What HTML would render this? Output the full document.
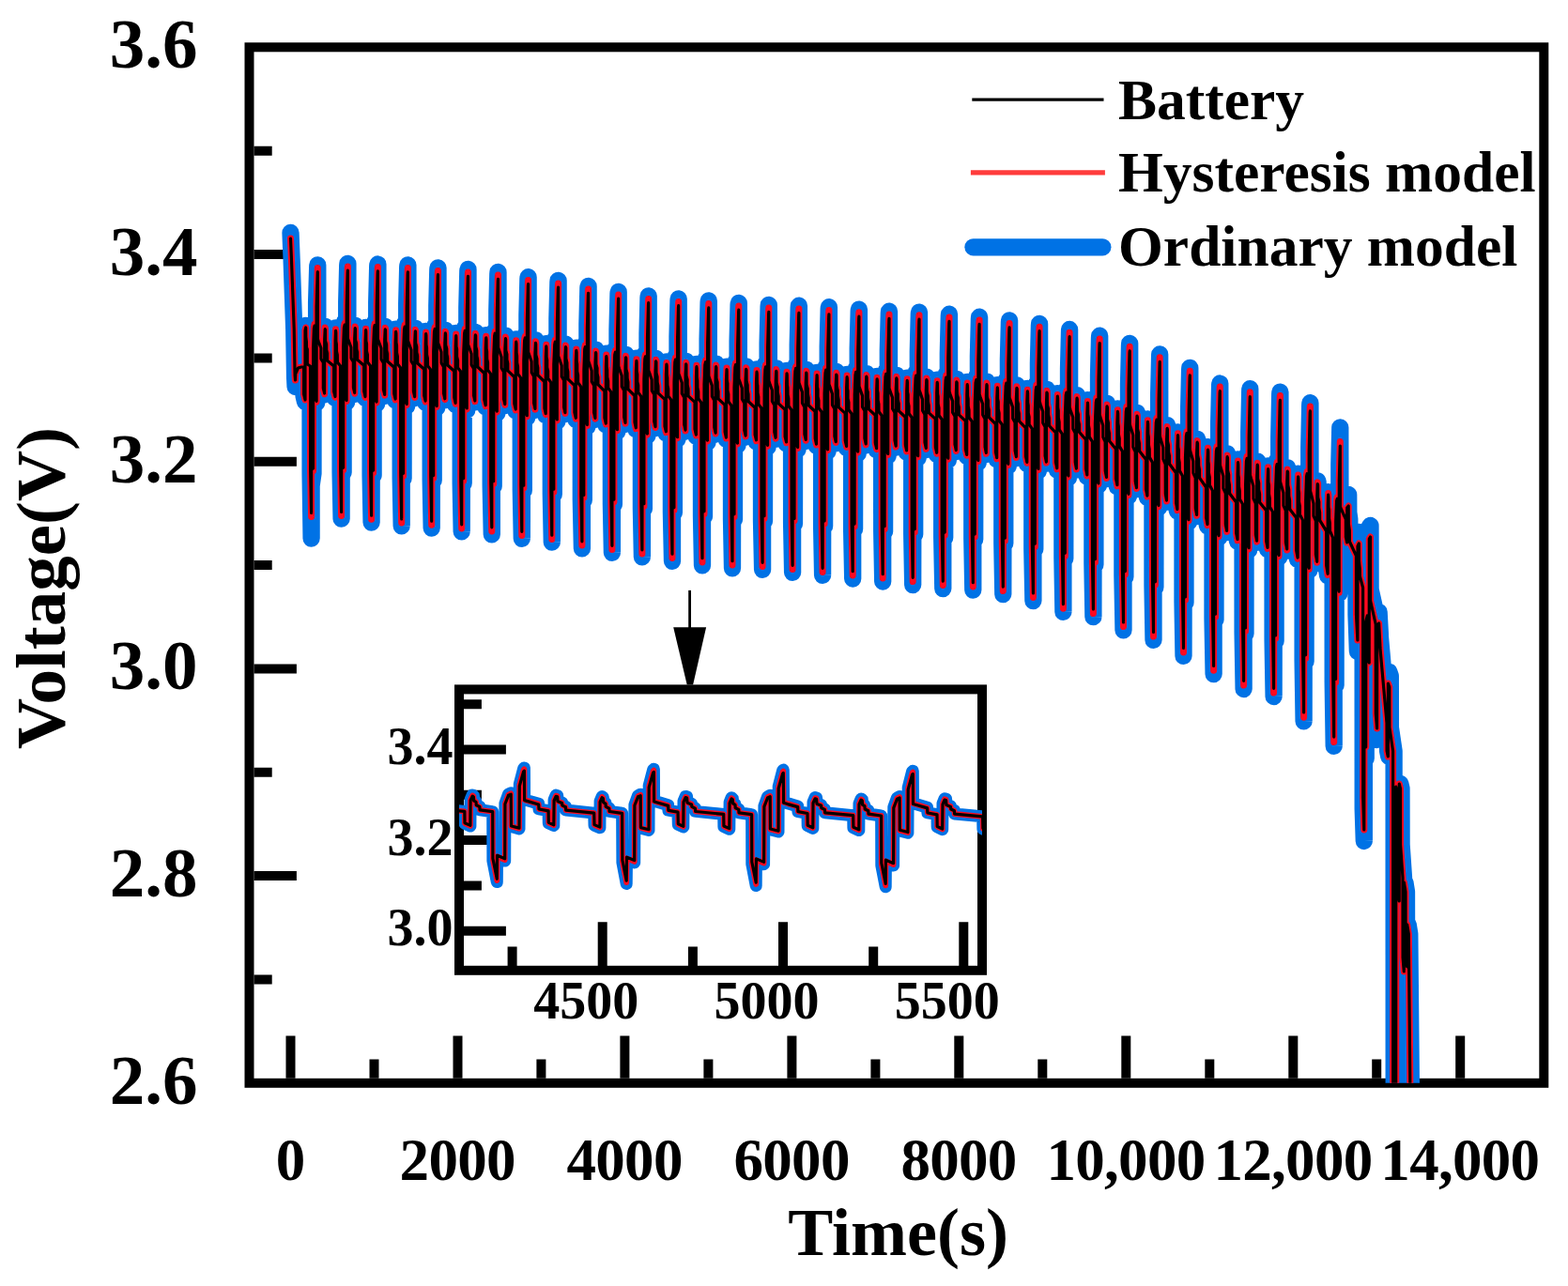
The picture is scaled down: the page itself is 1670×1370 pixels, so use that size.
<!DOCTYPE html><html><head><meta charset="utf-8"><title>Voltage vs Time</title>
<style>html,body{margin:0;padding:0;background:#fff;width:1670px;height:1370px;overflow:hidden}svg{display:block}text{font-family:'Liberation Serif', 'Times New Roman', serif;font-weight:bold;fill:#000}</style></head><body>
<svg width="1670" height="1370" viewBox="0 0 1670 1370">
<defs><clipPath id="cm"><rect x="265.5" y="50.3" width="1378.8" height="1103.5"/></clipPath>
<clipPath id="ci"><rect x="489" y="734.4" width="557" height="299.4"/></clipPath></defs>
<rect width="1670" height="1370" fill="#fff"/>
<path d="M270.5 271.0H315.9 M270.5 491.7H315.9 M270.5 712.4H315.9 M270.5 933.1H315.9 M270.5 160.7H289.7 M270.5 381.4H289.7 M270.5 602.0H289.7 M270.5 822.8H289.7 M270.5 1043.4H289.7 M309.5 1148.8V1103.4 M487.5 1148.8V1103.4 M665.4 1148.8V1103.4 M843.4 1148.8V1103.4 M1021.3 1148.8V1103.4 M1199.3 1148.8V1103.4 M1377.3 1148.8V1103.4 M1555.2 1148.8V1103.4 M398.5 1148.8V1128.6 M576.4 1148.8V1128.6 M754.4 1148.8V1128.6 M932.4 1148.8V1128.6 M1110.3 1148.8V1128.6 M1288.3 1148.8V1128.6 M1466.2 1148.8V1128.6" stroke="#000" stroke-width="10" fill="none"/>
<rect x="265.5" y="50.3" width="1378.8" height="1103.5" fill="none" stroke="#000" stroke-width="10"/>
<g clip-path="url(#cm)" fill="none" stroke-linejoin="round" stroke-linecap="round">
<path d="M309.5 248.0 L310.6 276.0 L312.0 316.0 L313.2 350.0 L314.1 402.0 L314.6 412.0 L314.9 400.0 L317.5 393.0 L321.1 392.0 L323.6 392.0 L323.6 422.0 L325.0 428.0 L325.0 350.0 L325.7 347.0 L325.8 359.0 L326.4 364.0 L326.5 370.0 L327.3 372.0 L327.3 388.0 L330.5 390.0 L330.6 505.1 L331.6 573.6 L331.6 517.5 L333.5 504.1 L333.6 369.5 L334.4 346.9 L335.0 343.9 L335.1 424.2 L337.1 429.0 L337.1 322.3 L338.2 284.4 L338.3 282.4 L338.4 359.2 L339.4 362.3 L341.9 369.4 L341.9 381.8 L344.3 385.9 L344.3 414.7 L345.6 420.4 L345.7 359.1 L346.2 347.8 L346.5 348.8 L346.6 361.2 L347.7 365.3 L347.7 371.5 L348.6 375.6 L348.6 383.8 L355.6 389.9 L355.6 418.3 L357.0 424.0 L357.1 360.9 L357.5 349.5 L357.8 351.6 L357.9 361.9 L358.4 365.0 L358.5 373.3 L359.3 377.4 L359.4 385.6 L362.5 389.7 L362.5 389.7 L362.6 503.4 L363.6 552.7 L363.7 495.8 L365.6 503.3 L365.6 368.9 L366.4 346.1 L367.1 343.0 L367.1 423.6 L369.1 428.3 L369.2 321.2 L370.2 282.9 L370.4 280.8 L370.4 358.4 L371.4 361.5 L373.9 368.6 L374.0 381.0 L376.3 385.1 L376.4 414.1 L377.7 419.9 L377.7 358.2 L378.2 346.8 L378.5 347.8 L378.6 360.2 L379.7 364.3 L379.8 370.5 L380.6 374.6 L380.6 382.9 L387.6 389.2 L387.7 418.2 L389.0 424.1 L389.1 360.3 L389.6 349.0 L389.8 351.1 L389.9 361.4 L390.5 364.6 L390.5 372.9 L391.4 377.0 L391.4 385.3 L394.5 389.7 L394.6 389.7 L394.6 506.1 L395.6 556.6 L395.7 498.4 L397.6 506.3 L397.6 369.2 L398.5 346.4 L399.1 343.4 L399.2 424.9 L401.1 429.9 L401.2 321.8 L402.2 283.5 L402.4 281.5 L402.4 359.1 L403.5 362.3 L406.0 369.6 L406.0 382.1 L408.4 386.4 L408.4 415.9 L409.7 421.8 L409.7 359.4 L410.2 348.0 L410.6 349.1 L410.7 361.5 L411.7 365.8 L411.8 372.0 L412.6 376.2 L412.7 384.6 L419.7 391.2 L419.7 420.6 L421.1 426.5 L421.1 362.1 L421.6 350.6 L421.9 352.7 L422.0 363.2 L422.5 366.3 L422.6 374.7 L423.4 378.9 L423.4 387.3 L426.5 391.7 L426.6 391.7 L426.7 509.3 L427.7 560.3 L427.7 501.5 L429.6 509.5 L429.7 370.9 L430.5 348.0 L431.1 344.9 L431.2 427.2 L433.2 432.3 L433.2 323.1 L434.2 284.4 L434.4 282.3 L434.5 360.8 L435.5 364.0 L438.0 371.5 L438.0 384.0 L440.4 388.4 L440.4 418.0 L441.7 424.0 L441.8 361.4 L442.3 349.9 L442.6 351.0 L442.7 363.5 L443.8 367.8 L443.8 374.0 L444.7 378.2 L444.7 386.6 L451.7 393.2 L451.7 422.7 L453.1 428.7 L453.2 364.2 L453.6 352.9 L453.9 355.0 L454.0 365.3 L454.5 368.5 L454.6 376.8 L455.4 381.0 L455.5 389.3 L458.6 393.7 L458.6 393.7 L458.7 511.5 L459.7 562.6 L459.8 503.7 L461.7 511.7 L461.7 373.1 L462.5 350.4 L463.2 347.3 L463.2 429.3 L465.2 434.3 L465.3 325.6 L466.3 287.3 L466.5 285.3 L466.5 363.0 L467.5 366.2 L470.0 373.6 L470.1 386.1 L472.4 390.4 L472.5 420.2 L473.8 426.2 L473.8 363.4 L474.3 352.0 L474.6 353.1 L474.7 365.6 L475.8 369.8 L475.9 376.0 L476.7 380.2 L476.7 388.6 L483.7 395.2 L483.8 424.9 L485.1 431.0 L485.2 366.2 L485.7 354.8 L485.9 356.9 L486.0 367.3 L486.6 370.4 L486.6 378.8 L487.5 383.0 L487.5 391.3 L490.6 395.7 L490.7 395.7 L490.7 514.7 L491.7 566.3 L491.8 506.8 L493.7 514.8 L493.7 375.0 L494.6 352.2 L495.2 349.1 L495.3 431.6 L497.2 436.7 L497.3 327.4 L498.3 288.9 L498.5 286.9 L498.5 364.9 L499.6 368.1 L502.1 375.6 L502.1 388.1 L504.5 392.4 L504.5 422.3 L505.8 428.4 L505.8 365.4 L506.3 353.9 L506.7 355.0 L506.8 367.5 L507.8 371.7 L507.9 378.0 L508.7 382.2 L508.8 390.5 L515.8 397.5 L515.8 427.3 L517.2 433.4 L517.2 368.5 L517.7 357.1 L518.0 359.2 L518.1 369.6 L518.6 372.8 L518.7 381.2 L519.5 385.4 L519.5 393.8 L522.6 398.3 L522.7 398.3 L522.7 517.5 L523.8 569.3 L523.8 509.7 L525.7 517.9 L525.8 377.9 L526.6 355.1 L527.2 352.0 L527.3 434.7 L529.3 439.9 L529.3 330.4 L530.3 292.0 L530.5 289.9 L530.6 368.1 L531.6 371.3 L534.1 379.0 L534.1 391.4 L536.5 395.9 L536.5 425.9 L537.8 432.0 L537.9 369.1 L538.4 357.7 L538.7 358.8 L538.8 371.3 L539.9 375.6 L539.9 381.8 L540.8 386.1 L540.8 394.4 L547.8 401.6 L547.8 431.4 L549.2 437.6 L549.3 372.8 L549.7 361.5 L550.0 363.6 L550.1 374.0 L550.6 377.2 L550.7 385.5 L551.5 389.7 L551.6 398.0 L554.7 402.7 L554.7 402.7 L554.8 522.0 L555.8 573.8 L555.9 514.2 L557.8 522.4 L557.8 382.5 L558.6 359.8 L559.3 356.8 L559.3 439.2 L561.3 444.5 L561.4 335.4 L562.4 297.3 L562.6 295.2 L562.6 372.9 L563.6 376.1 L566.1 383.7 L566.2 396.2 L568.5 400.7 L568.6 430.6 L569.9 436.8 L569.9 373.9 L570.4 362.5 L570.7 363.6 L570.8 376.1 L571.9 380.4 L572.0 386.7 L572.8 390.9 L572.8 399.3 L579.8 406.5 L579.9 436.2 L581.2 442.3 L581.3 377.5 L581.8 366.1 L582.0 368.2 L582.1 378.6 L582.7 381.8 L582.7 390.2 L583.6 394.4 L583.6 402.8 L586.7 407.3 L586.8 407.3 L586.8 526.1 L587.8 577.7 L587.9 518.3 L589.8 526.5 L589.8 386.9 L590.7 364.0 L591.3 361.0 L591.4 443.5 L593.3 448.7 L593.4 339.3 L594.4 300.9 L594.6 298.8 L594.6 377.0 L595.7 380.3 L598.2 388.0 L598.2 400.4 L600.6 404.9 L600.6 434.9 L601.9 441.1 L601.9 378.1 L602.4 366.7 L602.8 367.8 L602.9 380.3 L603.9 384.6 L604.0 390.8 L604.8 395.1 L604.9 403.4 L611.9 410.7 L611.9 440.7 L613.3 446.9 L613.3 382.0 L613.8 370.7 L614.1 372.8 L614.2 383.2 L614.7 386.4 L614.8 394.7 L615.6 399.0 L615.6 407.3 L618.7 412.0 L618.8 412.0 L618.8 532.1 L619.9 584.4 L619.9 524.3 L621.8 532.7 L621.9 391.9 L622.7 369.3 L623.3 366.3 L623.4 448.9 L625.4 454.3 L625.4 345.0 L626.4 306.9 L626.6 304.9 L626.7 382.4 L627.7 385.7 L630.2 393.5 L630.2 405.9 L632.6 410.5 L632.6 440.5 L633.9 446.8 L634.0 383.9 L634.5 372.6 L634.8 373.7 L634.9 386.1 L636.0 390.5 L636.0 396.7 L636.9 400.9 L636.9 409.2 L643.9 416.6 L643.9 446.5 L645.3 452.6 L645.4 388.0 L645.8 376.7 L646.1 378.8 L646.2 389.1 L646.7 392.3 L646.8 400.6 L647.6 404.8 L647.7 413.1 L650.8 417.7 L650.8 417.7 L650.9 537.0 L651.9 588.8 L651.9 529.2 L653.9 537.4 L653.9 397.6 L654.7 375.1 L655.4 372.1 L655.4 454.2 L657.4 459.5 L657.5 350.8 L658.5 312.9 L658.7 310.9 L658.7 388.0 L659.7 391.3 L662.2 398.9 L662.3 411.2 L664.6 415.7 L664.7 445.7 L666.0 451.8 L666.0 389.2 L666.5 377.9 L666.8 379.0 L666.9 391.4 L668.0 395.7 L668.1 401.8 L668.9 406.1 L668.9 414.3 L675.9 421.5 L676.0 451.3 L677.3 457.4 L677.4 392.9 L677.9 381.6 L678.1 383.7 L678.2 394.0 L678.8 397.1 L678.8 405.4 L679.7 409.6 L679.7 417.8 L682.8 422.3 L682.9 422.3 L682.9 541.5 L683.9 593.3 L684.0 533.7 L685.9 541.9 L685.9 402.2 L686.8 379.6 L687.4 376.6 L687.5 458.7 L689.4 463.9 L689.5 355.3 L690.5 317.4 L690.7 315.3 L690.7 392.5 L691.8 395.7 L694.2 403.2 L694.3 415.5 L696.7 419.9 L696.7 449.9 L698.0 456.1 L698.0 393.3 L698.5 382.0 L698.9 383.1 L699.0 395.5 L700.0 399.7 L700.1 405.9 L700.9 410.2 L701.0 418.4 L708.0 425.4 L708.0 455.3 L709.4 461.4 L709.4 396.6 L709.9 385.3 L710.2 387.4 L710.3 397.7 L710.8 400.8 L710.9 409.1 L711.7 413.3 L711.7 421.6 L714.8 426.0 L714.9 426.0 L714.9 545.8 L716.0 597.8 L716.0 537.9 L717.9 546.1 L718.0 405.6 L718.8 383.0 L719.4 380.0 L719.5 462.4 L721.5 467.5 L721.5 358.5 L722.5 320.4 L722.7 318.3 L722.8 395.8 L723.8 399.0 L726.3 406.4 L726.3 418.8 L728.7 423.1 L728.7 453.4 L730.0 459.5 L730.1 396.3 L730.6 385.0 L730.9 386.0 L731.0 398.5 L732.1 402.7 L732.1 408.9 L733.0 413.2 L733.0 421.5 L740.0 428.4 L740.0 458.5 L741.4 464.7 L741.5 399.4 L741.9 388.0 L742.2 390.1 L742.3 400.5 L742.8 403.6 L742.9 412.0 L743.7 416.2 L743.8 424.5 L746.9 429.0 L746.9 429.0 L747.0 549.9 L748.0 602.3 L748.0 541.9 L750.0 550.2 L750.0 408.5 L750.8 385.6 L751.5 382.6 L751.5 465.7 L753.5 470.9 L753.6 360.9 L754.6 322.4 L754.8 320.4 L754.8 398.5 L755.8 401.7 L758.3 409.2 L758.4 421.7 L760.7 426.1 L760.8 456.5 L762.1 462.6 L762.1 399.1 L762.6 387.6 L762.9 388.7 L763.0 401.3 L764.1 405.5 L764.2 411.8 L765.0 416.1 L765.0 424.4 L772.0 431.4 L772.1 461.6 L773.4 467.7 L773.5 402.2 L774.0 390.7 L774.2 392.8 L774.3 403.3 L774.9 406.5 L774.9 414.9 L775.8 419.1 L775.8 427.5 L778.9 432.0 L779.0 432.0 L779.0 552.9 L780.0 605.3 L780.1 544.9 L782.0 553.2 L782.0 411.3 L782.9 388.4 L783.5 385.3 L783.5 468.7 L785.5 473.9 L785.6 363.5 L786.6 324.8 L786.8 322.8 L786.8 401.3 L787.9 404.6 L790.3 412.1 L790.4 424.7 L792.8 429.1 L792.8 459.4 L794.1 465.6 L794.1 402.0 L794.6 390.5 L795.0 391.5 L795.1 404.1 L796.1 408.4 L796.2 414.7 L797.0 419.0 L797.1 427.4 L804.1 434.2 L804.1 464.3 L805.5 470.4 L805.5 404.9 L806.0 393.4 L806.3 395.5 L806.4 406.0 L806.9 409.2 L807.0 417.6 L807.8 421.9 L807.8 430.3 L810.9 434.7 L811.0 434.7 L811.0 554.8 L812.1 606.9 L812.1 546.9 L814.0 555.0 L814.1 413.8 L814.9 390.8 L815.5 387.7 L815.6 471.0 L817.6 476.1 L817.6 365.7 L818.6 326.9 L818.8 324.8 L818.9 403.6 L819.9 406.9 L822.4 414.3 L822.4 426.9 L824.8 431.3 L824.8 461.6 L826.1 467.7 L826.2 403.9 L826.7 392.3 L827.0 393.4 L827.1 406.1 L828.2 410.4 L828.2 416.7 L829.1 421.0 L829.1 429.5 L836.1 436.2 L836.1 466.4 L837.5 472.5 L837.6 406.7 L838.0 395.0 L838.3 397.2 L838.4 407.8 L838.9 411.0 L839.0 419.5 L839.8 423.7 L839.9 432.2 L843.0 436.7 L843.0 436.7 L843.1 557.5 L844.1 609.9 L844.1 549.5 L846.0 557.7 L846.1 415.6 L846.9 392.3 L847.6 389.2 L847.6 473.2 L849.6 478.4 L849.7 367.0 L850.7 327.8 L850.9 325.7 L850.9 405.3 L851.9 408.6 L854.4 416.1 L854.5 428.9 L856.8 433.3 L856.9 463.8 L858.2 469.9 L858.2 405.7 L858.7 394.0 L859.0 395.1 L859.1 407.9 L860.2 412.2 L860.3 418.6 L861.1 422.9 L861.1 431.4 L868.1 438.2 L868.2 468.6 L869.5 474.7 L869.6 408.5 L870.1 396.8 L870.3 398.9 L870.4 409.6 L871.0 412.8 L871.0 421.4 L871.9 425.7 L871.9 434.2 L875.0 438.7 L875.1 438.7 L875.1 560.2 L876.1 612.9 L876.2 552.2 L878.1 560.4 L878.1 417.5 L879.0 394.1 L879.6 391.0 L879.6 475.4 L881.6 480.6 L881.7 368.7 L882.7 329.3 L882.9 327.2 L882.9 407.2 L884.0 410.4 L886.4 418.1 L886.5 430.9 L888.8 435.3 L888.9 466.0 L890.2 472.2 L890.2 407.7 L890.7 396.0 L891.1 397.1 L891.2 409.9 L892.2 414.2 L892.3 420.6 L893.1 424.9 L893.2 433.4 L900.1 440.2 L900.2 470.8 L901.6 477.1 L901.6 410.6 L902.1 398.9 L902.4 401.0 L902.5 411.7 L903.0 414.9 L903.0 423.4 L903.9 427.7 L903.9 436.2 L907.0 440.7 L907.1 440.7 L907.1 563.3 L908.2 616.5 L908.2 555.2 L910.1 563.5 L910.2 419.6 L911.0 396.3 L911.6 393.1 L911.7 477.7 L913.7 483.0 L913.7 371.0 L914.7 331.7 L914.9 329.6 L915.0 409.3 L916.0 412.5 L918.5 420.1 L918.5 432.9 L920.9 437.3 L920.9 468.2 L922.2 474.4 L922.3 409.8 L922.8 398.1 L923.1 399.2 L923.2 411.9 L924.3 416.3 L924.3 422.6 L925.2 426.9 L925.2 435.4 L932.2 442.2 L932.2 473.0 L933.6 479.3 L933.7 412.6 L934.1 401.0 L934.4 403.1 L934.5 413.7 L935.0 416.9 L935.1 425.4 L935.9 429.7 L936.0 438.2 L939.1 442.7 L939.1 442.7 L939.2 566.0 L940.2 619.5 L940.2 557.8 L942.1 566.2 L942.2 421.6 L943.0 398.3 L943.7 395.2 L943.7 480.0 L945.7 485.2 L945.8 373.0 L946.8 333.8 L947.0 331.7 L947.0 411.3 L948.0 414.6 L950.5 422.1 L950.6 434.9 L952.9 439.3 L953.0 470.4 L954.2 476.6 L954.3 411.6 L954.8 399.9 L955.1 401.0 L955.2 413.8 L956.3 418.1 L956.3 424.5 L957.2 428.8 L957.2 437.4 L964.2 444.2 L964.3 475.3 L965.6 481.6 L965.7 414.4 L966.2 402.6 L966.4 404.8 L966.5 415.5 L967.1 418.7 L967.1 427.3 L968.0 431.6 L968.0 440.2 L971.1 444.7 L971.2 444.7 L971.2 569.1 L972.2 623.1 L972.3 560.9 L974.2 569.3 L974.2 423.4 L975.1 399.9 L975.7 396.7 L975.7 482.3 L977.7 487.6 L977.8 374.3 L978.8 334.7 L979.0 332.6 L979.0 413.0 L980.1 416.3 L982.5 423.9 L982.6 436.8 L984.9 441.2 L985.0 472.6 L986.3 479.0 L986.3 413.5 L986.8 401.7 L987.2 402.8 L987.3 415.7 L988.3 420.0 L988.4 426.5 L989.2 430.8 L989.3 439.4 L996.2 446.2 L996.3 477.6 L997.7 484.0 L997.7 416.3 L998.2 404.6 L998.5 406.7 L998.6 417.4 L999.1 420.7 L999.1 429.3 L1000.0 433.6 L1000.0 442.2 L1003.1 446.7 L1003.2 446.7 L1003.2 572.5 L1004.3 627.1 L1004.3 564.2 L1006.2 572.7 L1006.3 425.4 L1007.1 401.9 L1007.7 398.7 L1007.8 484.7 L1009.8 490.1 L1009.8 376.4 L1010.8 336.8 L1011.0 334.7 L1011.1 415.0 L1012.1 418.3 L1014.6 426.0 L1014.6 438.8 L1017.0 443.3 L1017.0 474.7 L1018.3 481.1 L1018.4 415.5 L1018.8 403.8 L1019.2 404.9 L1019.3 417.7 L1020.4 422.1 L1020.4 428.5 L1021.3 432.8 L1021.3 441.4 L1028.3 448.4 L1028.3 479.7 L1029.7 486.1 L1029.8 418.6 L1030.2 406.9 L1030.5 409.1 L1030.6 419.7 L1031.1 423.0 L1031.2 431.5 L1032.0 435.9 L1032.1 444.4 L1035.2 449.0 L1035.2 449.0 L1035.3 574.2 L1036.3 628.6 L1036.3 566.0 L1038.2 574.5 L1038.3 427.9 L1039.1 404.6 L1039.8 401.4 L1039.8 487.0 L1041.8 492.4 L1041.9 379.2 L1042.9 339.8 L1043.1 337.7 L1043.1 417.7 L1044.1 421.0 L1046.6 428.7 L1046.7 441.5 L1049.0 446.0 L1049.1 477.5 L1050.3 483.9 L1050.4 418.4 L1050.9 406.7 L1051.2 407.8 L1051.3 420.6 L1052.4 425.0 L1052.4 431.4 L1053.3 435.8 L1053.3 444.3 L1060.3 451.5 L1060.4 482.9 L1061.7 489.4 L1061.8 421.8 L1062.3 410.1 L1062.5 412.3 L1062.6 423.0 L1063.2 426.2 L1063.2 434.8 L1064.1 439.1 L1064.1 447.7 L1067.2 452.3 L1067.3 452.3 L1067.3 578.4 L1068.3 633.1 L1068.4 570.1 L1070.3 578.7 L1070.3 431.4 L1071.2 408.0 L1071.8 404.9 L1071.8 490.7 L1073.8 496.2 L1073.9 382.8 L1074.9 343.4 L1075.1 341.3 L1075.1 421.3 L1076.2 424.6 L1078.6 432.4 L1078.7 445.2 L1081.0 449.8 L1081.1 481.5 L1082.4 488.1 L1082.4 422.1 L1082.9 410.4 L1083.3 411.5 L1083.4 424.4 L1084.4 428.8 L1084.5 435.2 L1085.3 439.6 L1085.4 448.2 L1092.3 455.6 L1092.4 487.5 L1093.8 494.1 L1093.8 425.7 L1094.3 414.0 L1094.6 416.2 L1094.7 426.9 L1095.2 430.2 L1095.2 438.8 L1096.1 443.3 L1096.1 451.9 L1099.2 456.7 L1099.3 456.7 L1099.3 584.5 L1100.4 640.1 L1100.4 576.2 L1102.3 585.0 L1102.4 435.6 L1103.2 412.1 L1103.8 409.0 L1103.9 495.7 L1105.9 501.4 L1105.9 386.7 L1106.9 347.0 L1107.1 344.9 L1107.2 425.6 L1108.2 429.0 L1110.7 436.9 L1110.7 449.8 L1113.1 454.5 L1113.1 486.9 L1114.4 493.7 L1114.5 426.7 L1114.9 415.0 L1115.3 416.1 L1115.4 429.0 L1116.5 433.5 L1116.5 440.0 L1117.3 444.4 L1117.4 453.0 L1124.4 460.8 L1124.4 493.6 L1125.8 500.5 L1125.9 431.0 L1126.3 419.2 L1126.6 421.5 L1126.7 432.2 L1127.2 435.6 L1127.3 444.2 L1128.1 448.7 L1128.2 457.3 L1131.3 462.3 L1131.3 462.3 L1131.4 594.5 L1132.4 651.9 L1132.4 585.9 L1134.3 595.1 L1134.4 441.5 L1135.2 418.0 L1135.9 414.9 L1135.9 503.0 L1137.9 508.9 L1138.0 392.7 L1139.0 353.1 L1139.1 351.0 L1139.2 431.7 L1140.2 435.2 L1142.7 443.1 L1142.8 456.2 L1145.1 461.0 L1145.2 493.8 L1146.4 500.6 L1146.5 433.1 L1147.0 421.2 L1147.3 422.4 L1147.4 435.4 L1148.5 440.0 L1148.5 446.5 L1149.4 451.1 L1149.4 459.8 L1156.4 468.2 L1156.5 500.8 L1157.8 507.8 L1157.9 438.0 L1158.4 426.1 L1158.6 428.4 L1158.7 439.4 L1159.3 442.8 L1159.3 451.6 L1160.1 456.2 L1160.2 465.0 L1163.3 470.3 L1163.4 470.3 L1163.4 600.5 L1164.4 657.2 L1164.5 592.2 L1166.4 601.4 L1166.4 449.4 L1167.3 425.5 L1167.9 422.4 L1167.9 510.8 L1169.9 516.9 L1170.0 400.1 L1171.0 359.8 L1171.2 357.7 L1171.2 439.9 L1172.3 443.5 L1174.7 451.8 L1174.8 465.1 L1177.1 470.2 L1177.2 503.1 L1178.5 510.1 L1178.5 441.9 L1179.0 429.8 L1179.4 431.0 L1179.5 444.3 L1180.5 449.1 L1180.6 455.8 L1181.4 460.4 L1181.5 469.3 L1188.4 478.3 L1188.5 511.4 L1189.9 518.5 L1189.9 447.6 L1190.4 435.4 L1190.7 437.8 L1190.8 448.9 L1191.3 452.5 L1191.3 461.4 L1192.2 466.2 L1192.2 475.1 L1195.3 480.6 L1195.4 480.7 L1195.4 613.4 L1196.5 671.3 L1196.5 605.0 L1198.4 614.5 L1198.5 459.3 L1199.3 435.0 L1199.9 431.9 L1200.0 522.1 L1202.0 528.3 L1202.0 409.1 L1203.0 368.0 L1203.2 365.8 L1203.3 449.8 L1204.3 453.5 L1206.8 462.1 L1206.8 475.6 L1209.2 480.9 L1209.2 514.1 L1210.5 521.1 L1210.6 452.1 L1211.0 439.9 L1211.4 441.2 L1211.5 454.7 L1212.6 459.6 L1212.6 466.3 L1213.4 471.1 L1213.5 480.1 L1220.5 489.6 L1220.5 522.6 L1221.9 529.8 L1222.0 458.7 L1222.4 446.5 L1222.7 448.8 L1222.8 460.2 L1223.3 463.8 L1223.4 472.8 L1224.2 477.7 L1224.3 486.8 L1227.4 492.6 L1227.4 492.7 L1227.5 624.3 L1228.5 681.8 L1228.5 616.0 L1230.4 625.6 L1230.5 471.4 L1231.3 446.9 L1232.0 443.8 L1232.0 534.2 L1234.0 540.5 L1234.1 420.9 L1235.1 379.5 L1235.2 377.4 L1235.3 462.2 L1236.3 466.0 L1238.8 475.0 L1238.9 488.6 L1241.2 494.2 L1241.3 527.4 L1242.5 534.6 L1242.6 465.4 L1243.1 453.1 L1243.4 454.4 L1243.5 468.0 L1244.6 473.0 L1244.6 479.8 L1245.5 484.7 L1245.5 493.8 L1252.5 503.8 L1252.6 537.0 L1253.9 544.4 L1254.0 472.7 L1254.5 460.5 L1254.7 462.9 L1254.8 474.3 L1255.4 477.9 L1255.4 487.0 L1256.2 491.9 L1256.3 501.0 L1259.4 507.0 L1259.5 507.0 L1259.5 640.5 L1260.5 698.8 L1260.6 632.1 L1262.5 641.9 L1262.5 485.8 L1263.4 461.3 L1264.0 458.2 L1264.0 549.2 L1266.0 555.7 L1266.1 435.4 L1267.1 394.0 L1267.3 391.8 L1267.3 476.7 L1268.3 480.6 L1270.8 489.7 L1270.9 503.3 L1273.2 508.9 L1273.3 542.6 L1274.6 550.0 L1274.6 480.2 L1275.1 468.0 L1275.5 469.3 L1275.6 482.9 L1276.6 487.9 L1276.7 494.7 L1277.5 499.7 L1277.6 508.7 L1284.5 519.0 L1284.6 552.9 L1286.0 560.4 L1286.0 488.2 L1286.5 476.1 L1286.8 478.4 L1286.9 489.8 L1287.4 493.4 L1287.4 502.5 L1288.3 507.4 L1288.3 516.5 L1291.4 522.6 L1291.5 522.7 L1291.5 658.7 L1292.6 718.1 L1292.6 650.2 L1294.5 660.2 L1294.6 501.8 L1295.4 477.4 L1296.0 474.4 L1296.1 565.9 L1298.1 572.6 L1298.1 451.8 L1299.1 410.7 L1299.3 408.5 L1299.4 493.1 L1300.4 497.0 L1302.9 505.7 L1302.9 519.5 L1305.3 525.4 L1305.3 559.6 L1306.6 567.1 L1306.7 496.0 L1307.1 483.5 L1307.5 484.8 L1307.6 498.8 L1308.7 503.9 L1308.7 510.9 L1309.5 516.0 L1309.6 525.3 L1316.6 535.0 L1316.6 569.3 L1318.0 576.6 L1318.1 502.4 L1318.5 489.5 L1318.8 492.0 L1318.9 503.8 L1319.4 507.5 L1319.5 516.9 L1320.3 521.9 L1320.4 531.4 L1323.5 537.0 L1323.5 537.0 L1323.6 674.3 L1324.6 734.0 L1324.6 665.4 L1326.5 675.1 L1326.6 514.0 L1327.4 488.1 L1328.1 484.7 L1328.1 579.5 L1330.1 585.7 L1330.2 460.3 L1331.2 416.5 L1331.3 414.2 L1331.4 503.5 L1332.4 507.3 L1334.9 516.1 L1335.0 530.6 L1337.3 536.0 L1337.4 570.6 L1338.6 577.8 L1338.7 504.9 L1339.2 491.7 L1339.5 493.0 L1339.6 507.6 L1340.7 512.7 L1340.7 520.0 L1341.6 525.1 L1341.6 534.8 L1348.6 543.8 L1348.7 578.1 L1350.0 585.2 L1350.1 509.8 L1350.6 496.4 L1350.8 498.9 L1350.9 511.2 L1351.5 515.0 L1351.5 524.8 L1352.3 529.9 L1352.4 539.7 L1355.5 545.3 L1355.5 545.3 L1355.6 682.4 L1356.6 742.0 L1356.7 673.5 L1358.6 683.0 L1358.6 521.3 L1359.5 494.4 L1360.1 490.8 L1360.1 587.4 L1362.1 593.6 L1362.2 465.4 L1363.2 420.0 L1363.4 417.6 L1363.4 510.1 L1364.4 514.0 L1366.9 523.3 L1367.0 538.0 L1369.3 543.4 L1369.4 579.2 L1370.7 586.7 L1370.7 511.9 L1371.2 498.5 L1371.6 499.9 L1371.7 514.6 L1372.7 519.7 L1372.8 527.1 L1373.6 532.2 L1373.7 542.0 L1380.6 551.4 L1380.7 588.1 L1382.1 596.1 L1382.1 517.8 L1382.6 504.6 L1382.9 507.1 L1383.0 519.4 L1383.5 523.2 L1383.5 533.0 L1384.4 538.2 L1384.4 547.9 L1387.5 554.0 L1387.6 554.0 L1387.6 703.3 L1388.6 768.4 L1388.7 693.8 L1390.6 704.4 L1390.7 530.8 L1391.5 504.4 L1392.1 501.0 L1392.2 600.5 L1394.2 607.5 L1394.2 476.2 L1395.2 431.6 L1395.4 429.2 L1395.5 520.5 L1396.5 524.5 L1399.0 534.8 L1399.0 548.9 L1401.4 554.5 L1401.4 592.0 L1402.7 600.1 L1402.8 524.8 L1403.2 512.3 L1403.6 513.6 L1403.7 527.6 L1404.8 532.7 L1404.8 539.7 L1405.6 544.6 L1405.7 553.9 L1412.7 565.9 L1412.7 604.2 L1414.1 613.3 L1414.2 535.9 L1414.6 524.2 L1414.9 526.7 L1415.0 538.0 L1415.5 542.0 L1415.6 551.0 L1416.4 556.3 L1416.5 565.3 L1419.6 572.9 L1419.6 573.0 L1419.7 727.1 L1420.7 794.9 L1420.7 717.9 L1422.6 730.1 L1422.7 554.1 L1423.5 530.7 L1424.2 528.0 L1424.2 623.9 L1426.2 632.4 L1426.3 495.0 L1427.3 455.3 L1427.4 528.0 L1431.0 536.0 L1433.3 541.0 L1433.4 572.0 L1434.6 578.0 L1434.7 529.0 L1436.2 527.0 L1436.3 546.0 L1437.3 553.0 L1437.4 577.0 L1444.4 592.0 L1444.5 655.0 L1445.9 694.0 L1446.0 570.0 L1447.3 567.0 L1447.4 586.0 L1448.3 606.0 L1448.4 614.0 L1451.6 626.0 L1451.7 862.0 L1452.8 896.0 L1452.9 797.0 L1454.7 808.0 L1454.8 662.0 L1456.2 656.0 L1456.3 700.0 L1458.2 706.0 L1458.3 562.0 L1459.5 560.0 L1459.6 628.0 L1465.2 653.0 L1465.3 772.0 L1466.6 788.0 L1466.7 654.0 L1468.6 652.0 L1469.8 674.0 L1469.9 678.0 L1478.0 770.0 L1478.1 800.0 L1479.3 806.0 L1479.4 716.0 L1480.8 720.0 L1480.9 775.0 L1484.6 800.0 L1484.7 1200.0 L1485.8 1220.0 L1485.9 1200.0 L1487.7 1200.0 L1487.8 838.0 L1489.2 845.0 L1489.3 950.0 L1491.2 960.0 L1491.3 835.0 L1492.5 840.0 L1492.6 900.0 L1495.0 935.0 L1495.1 1020.0 L1496.3 1035.0 L1496.4 940.0 L1498.0 950.0 L1498.1 1010.0 L1499.6 1030.0 L1499.7 985.0 L1501.3 995.0 L1503.0 1170.0" stroke="#0072e5" stroke-width="18.3"/>
<path d="M309.5 254.0 L310.6 280.0 L312.0 318.0 L313.2 350.0 L314.1 400.0 L314.5 405.0 L314.8 398.0 L317.5 392.0 L321.1 391.0 L323.6 391.0 L323.6 420.0 L325.0 426.0 L325.0 352.0 L325.7 349.0 L325.8 359.0 L326.4 364.0 L326.5 370.0 L327.3 372.0 L327.3 388.0 L330.5 390.0 L330.6 501.9 L331.6 550.4 L331.6 494.4 L333.5 501.9 L333.6 370.1 L334.4 348.2 L335.0 345.2 L335.1 423.6 L337.1 428.2 L337.1 324.3 L338.2 287.5 L338.3 285.5 L338.4 360.1 L339.4 363.1 L341.9 370.0 L341.9 382.0 L344.3 386.0 L344.3 414.2 L345.6 419.8 L345.7 360.0 L346.2 349.0 L346.5 350.0 L346.6 362.0 L347.7 366.0 L347.7 372.0 L348.6 376.0 L348.6 384.0 L355.6 389.9 L355.6 417.8 L357.0 423.3 L357.1 361.8 L357.5 350.7 L357.8 352.7 L357.9 362.7 L358.4 365.7 L358.5 373.7 L359.3 377.7 L359.4 385.8 L362.5 389.7 L362.5 389.7 L362.6 501.2 L363.6 549.5 L363.7 493.7 L365.6 501.1 L365.6 369.5 L366.4 347.4 L367.1 344.3 L367.1 423.0 L369.1 427.6 L369.2 323.2 L370.2 286.0 L370.4 284.0 L370.4 359.3 L371.4 362.3 L373.9 369.2 L374.0 381.3 L376.3 385.2 L376.4 413.6 L377.7 419.3 L377.7 359.1 L378.2 348.0 L378.5 349.0 L378.6 361.0 L379.7 365.0 L379.8 371.0 L380.6 375.0 L380.6 383.1 L387.6 389.2 L387.7 417.6 L389.0 423.4 L389.1 361.2 L389.6 350.2 L389.8 352.2 L389.9 362.2 L390.5 365.3 L390.5 373.3 L391.4 377.4 L391.4 385.5 L394.5 389.7 L394.6 389.7 L394.6 503.8 L395.6 553.3 L395.7 496.3 L397.6 504.0 L397.6 369.8 L398.5 347.7 L399.1 344.7 L399.2 424.2 L401.1 429.1 L401.2 323.8 L402.2 286.6 L402.4 284.6 L402.4 360.0 L403.5 363.1 L406.0 370.2 L406.0 382.3 L408.4 386.5 L408.4 415.4 L409.7 421.2 L409.7 360.3 L410.2 349.2 L410.6 350.3 L410.7 362.4 L411.7 366.5 L411.8 372.6 L412.6 376.6 L412.7 384.7 L419.7 391.2 L419.7 420.0 L421.1 425.9 L421.1 362.9 L421.6 351.8 L421.9 353.9 L422.0 364.0 L422.5 367.1 L422.6 375.2 L423.4 379.3 L423.4 387.4 L426.5 391.7 L426.6 391.7 L426.7 507.0 L427.7 557.0 L427.7 499.4 L429.6 507.2 L429.7 371.6 L430.5 349.3 L431.1 346.3 L431.2 426.6 L433.2 431.5 L433.2 325.1 L434.2 287.6 L434.4 285.5 L434.5 361.7 L435.5 364.8 L438.0 372.1 L438.0 384.3 L440.4 388.5 L440.4 417.5 L441.7 423.4 L441.8 362.3 L442.3 351.2 L442.6 352.2 L442.7 364.4 L443.8 368.5 L443.8 374.5 L444.7 378.6 L444.7 386.7 L451.7 393.2 L451.7 422.1 L453.1 428.0 L453.2 365.1 L453.6 354.0 L453.9 356.1 L454.0 366.2 L454.5 369.2 L454.6 377.3 L455.4 381.4 L455.5 389.4 L458.6 393.7 L458.6 393.7 L458.7 509.2 L459.7 559.3 L459.8 501.6 L461.7 509.4 L461.7 373.7 L462.5 351.6 L463.2 348.6 L463.2 428.6 L465.2 433.6 L465.3 327.6 L466.3 290.4 L466.5 288.4 L466.5 364.0 L467.5 367.0 L470.0 374.2 L470.1 386.3 L472.4 390.5 L472.5 419.7 L473.8 425.6 L473.8 364.4 L474.3 353.3 L474.6 354.3 L474.7 366.4 L475.8 370.5 L475.9 376.6 L476.7 380.7 L476.7 388.7 L483.7 395.2 L483.8 424.3 L485.1 430.3 L485.2 367.0 L485.7 356.0 L485.9 358.0 L486.0 368.1 L486.6 371.2 L486.6 379.3 L487.5 383.3 L487.5 391.4 L490.6 395.7 L490.7 395.7 L490.7 512.3 L491.7 562.9 L491.8 504.6 L493.7 512.5 L493.7 375.6 L494.6 353.5 L495.2 350.5 L495.3 430.9 L497.2 435.9 L497.3 329.4 L498.3 292.1 L498.5 290.0 L498.5 365.8 L499.6 368.9 L502.1 376.2 L502.1 388.3 L504.5 392.5 L504.5 421.8 L505.8 427.7 L505.8 366.3 L506.3 355.2 L506.7 356.2 L506.8 368.4 L507.8 372.5 L507.9 378.5 L508.7 382.6 L508.8 390.7 L515.8 397.5 L515.8 426.7 L517.2 432.7 L517.2 369.3 L517.7 358.3 L518.0 360.3 L518.1 370.4 L518.6 373.5 L518.7 381.6 L519.5 385.8 L519.5 393.9 L522.6 398.3 L522.7 398.3 L522.7 515.2 L523.8 566.0 L523.8 507.5 L525.7 515.6 L525.8 378.5 L526.6 356.3 L527.2 353.4 L527.3 434.0 L529.3 439.1 L529.3 332.4 L530.3 295.1 L530.5 293.1 L530.6 369.0 L531.6 372.1 L534.1 379.6 L534.1 391.7 L536.5 396.0 L536.5 425.4 L537.8 431.4 L537.9 370.0 L538.4 359.0 L538.7 360.0 L538.8 372.1 L539.9 376.3 L539.9 382.3 L540.8 386.5 L540.8 394.5 L547.8 401.6 L547.8 430.8 L549.2 436.9 L549.3 373.7 L549.7 362.7 L550.0 364.7 L550.1 374.8 L550.6 377.9 L550.7 385.9 L551.5 390.1 L551.6 398.2 L554.7 402.7 L554.7 402.7 L554.8 519.6 L555.8 570.5 L555.9 512.0 L557.8 520.1 L557.8 383.1 L558.6 361.1 L559.3 358.2 L559.3 438.5 L561.3 443.7 L561.4 337.4 L562.4 300.4 L562.6 298.4 L562.6 373.8 L563.6 376.9 L566.1 384.3 L566.2 396.4 L568.5 400.8 L568.6 430.1 L569.9 436.2 L569.9 374.8 L570.4 363.8 L570.7 364.8 L570.8 376.9 L571.9 381.1 L572.0 387.2 L572.8 391.4 L572.8 399.4 L579.8 406.5 L579.9 435.6 L581.2 441.6 L581.3 378.3 L581.8 367.3 L582.0 369.3 L582.1 379.4 L582.7 382.5 L582.7 390.6 L583.6 394.8 L583.6 402.9 L586.7 407.3 L586.8 407.3 L586.8 523.8 L587.8 574.4 L587.9 516.2 L589.8 524.2 L589.8 387.5 L590.7 365.3 L591.3 362.3 L591.4 442.8 L593.3 447.9 L593.4 341.3 L594.4 304.0 L594.6 302.0 L594.6 377.9 L595.7 381.1 L598.2 388.6 L598.2 400.7 L600.6 405.0 L600.6 434.4 L601.9 440.4 L601.9 379.0 L602.4 367.9 L602.8 369.0 L602.9 381.1 L603.9 385.3 L604.0 391.3 L604.8 395.5 L604.9 403.5 L611.9 410.7 L611.9 440.1 L613.3 446.2 L613.3 382.8 L613.8 371.9 L614.1 373.9 L614.2 384.0 L614.7 387.1 L614.8 395.2 L615.6 399.3 L615.6 407.4 L618.7 412.0 L618.8 412.0 L618.8 529.8 L619.9 581.0 L619.9 522.1 L621.8 530.3 L621.9 392.5 L622.7 370.6 L623.3 367.7 L623.4 448.2 L625.4 453.5 L625.4 347.0 L626.4 310.0 L626.6 308.0 L626.7 383.4 L627.7 386.6 L630.2 394.1 L630.2 406.1 L632.6 410.6 L632.6 440.0 L633.9 446.1 L634.0 384.8 L634.5 373.9 L634.8 374.9 L634.9 387.0 L636.0 391.2 L636.0 397.2 L636.9 401.4 L636.9 409.4 L643.9 416.6 L643.9 445.9 L645.3 451.9 L645.4 388.8 L645.8 377.9 L646.1 379.9 L646.2 390.0 L646.7 393.0 L646.8 401.0 L647.6 405.2 L647.7 413.2 L650.8 417.7 L650.8 417.7 L650.9 534.6 L651.9 585.5 L651.9 527.0 L653.9 535.1 L653.9 398.2 L654.7 376.3 L655.4 373.4 L655.4 453.5 L657.4 458.7 L657.5 352.8 L658.5 316.0 L658.7 314.0 L658.7 388.9 L659.7 392.1 L662.2 399.5 L662.3 411.5 L664.6 415.8 L664.7 445.2 L666.0 451.2 L666.0 390.1 L666.5 379.2 L666.8 380.2 L666.9 392.2 L668.0 396.4 L668.1 402.4 L668.9 406.5 L668.9 414.5 L675.9 421.5 L676.0 450.7 L677.3 456.7 L677.4 393.7 L677.9 382.8 L678.1 384.8 L678.2 394.8 L678.8 397.9 L678.8 405.9 L679.7 410.0 L679.7 417.9 L682.8 422.3 L682.9 422.3 L682.9 539.2 L683.9 590.0 L684.0 531.5 L685.9 539.6 L685.9 402.8 L686.8 380.9 L687.4 378.0 L687.5 458.0 L689.4 463.1 L689.5 357.3 L690.5 320.5 L690.7 318.5 L690.7 393.4 L691.8 396.5 L694.2 403.8 L694.3 415.8 L696.7 420.1 L696.7 449.4 L698.0 455.5 L698.0 394.2 L698.5 383.3 L698.9 384.3 L699.0 396.3 L700.0 400.5 L700.1 406.5 L700.9 410.6 L701.0 418.6 L708.0 425.4 L708.0 454.7 L709.4 460.7 L709.4 397.4 L709.9 386.5 L710.2 388.5 L710.3 398.5 L710.8 401.6 L710.9 409.6 L711.7 413.7 L711.7 421.7 L714.8 426.0 L714.9 426.0 L714.9 543.5 L716.0 594.5 L716.0 535.7 L717.9 543.7 L718.0 406.2 L718.8 384.3 L719.4 381.3 L719.5 461.7 L721.5 466.7 L721.5 360.5 L722.5 323.5 L722.7 321.5 L722.8 396.7 L723.8 399.8 L726.3 407.0 L726.3 419.0 L728.7 423.3 L728.7 452.8 L730.0 458.9 L730.1 397.2 L730.6 386.2 L730.9 387.2 L731.0 399.3 L732.1 403.4 L732.1 409.5 L733.0 413.6 L733.0 421.7 L740.0 428.4 L740.0 457.9 L741.4 464.0 L741.5 400.2 L741.9 389.2 L742.2 391.2 L742.3 401.3 L742.8 404.4 L742.9 412.5 L743.7 416.6 L743.8 424.7 L746.9 429.0 L746.9 429.0 L747.0 547.5 L748.0 599.0 L748.0 539.7 L750.0 547.8 L750.0 409.1 L750.8 386.9 L751.5 383.9 L751.5 465.0 L753.5 470.1 L753.6 362.9 L754.6 325.6 L754.8 323.6 L754.8 399.4 L755.8 402.5 L758.3 409.8 L758.4 422.0 L760.7 426.2 L760.8 456.0 L762.1 462.0 L762.1 400.0 L762.6 388.9 L762.9 389.9 L763.0 402.1 L764.1 406.3 L764.2 412.4 L765.0 416.5 L765.0 424.6 L772.0 431.4 L772.1 461.0 L773.4 467.0 L773.5 403.0 L774.0 391.9 L774.2 394.0 L774.3 404.1 L774.9 407.2 L774.9 415.4 L775.8 419.5 L775.8 427.6 L778.9 432.0 L779.0 432.0 L779.0 550.5 L780.0 602.0 L780.1 542.7 L782.0 550.8 L782.0 412.0 L782.9 389.7 L783.5 386.7 L783.5 468.0 L785.5 473.1 L785.6 365.5 L786.6 328.0 L786.8 326.0 L786.8 402.2 L787.9 405.4 L790.3 412.7 L790.4 424.9 L792.8 429.2 L792.8 458.9 L794.1 464.9 L794.1 402.9 L794.6 391.7 L795.0 392.8 L795.1 405.0 L796.1 409.2 L796.2 415.3 L797.0 419.4 L797.1 427.6 L804.1 434.2 L804.1 463.7 L805.5 469.7 L805.5 405.8 L806.0 394.6 L806.3 396.6 L806.4 406.8 L806.9 409.9 L807.0 418.1 L807.8 422.2 L807.8 430.4 L810.9 434.7 L811.0 434.7 L811.0 552.4 L812.1 603.5 L812.1 544.7 L814.0 552.6 L814.1 414.5 L814.9 392.1 L815.5 389.0 L815.6 470.3 L817.6 475.3 L817.6 367.8 L818.6 330.1 L818.8 328.0 L818.9 404.6 L819.9 407.7 L822.4 414.9 L822.4 427.2 L824.8 431.4 L824.8 461.1 L826.1 467.1 L826.2 404.9 L826.7 393.6 L827.0 394.7 L827.1 407.0 L828.2 411.1 L828.2 417.3 L829.1 421.4 L829.1 429.6 L836.1 436.2 L836.1 465.8 L837.5 471.8 L837.6 407.5 L838.0 396.2 L838.3 398.3 L838.4 408.6 L838.9 411.7 L839.0 419.9 L839.8 424.1 L839.9 432.4 L843.0 436.7 L843.0 436.7 L843.1 555.1 L844.1 606.5 L844.1 547.3 L846.0 555.3 L846.1 416.2 L846.9 393.6 L847.6 390.6 L847.6 472.5 L849.6 477.6 L849.7 369.1 L850.7 331.0 L850.9 328.9 L850.9 406.2 L851.9 409.4 L854.4 416.7 L854.5 429.1 L856.8 433.4 L856.9 463.3 L858.2 469.3 L858.2 406.6 L858.7 395.3 L859.0 396.3 L859.1 408.7 L860.2 412.9 L860.3 419.1 L861.1 423.3 L861.1 431.6 L868.1 438.2 L868.2 468.0 L869.5 474.0 L869.6 409.4 L870.1 398.0 L870.3 400.1 L870.4 410.4 L871.0 413.6 L871.0 421.9 L871.9 426.0 L871.9 434.3 L875.0 438.7 L875.1 438.7 L875.1 557.8 L876.1 609.5 L876.2 550.0 L878.1 558.0 L878.1 418.2 L879.0 395.4 L879.6 392.4 L879.6 474.7 L881.6 479.8 L881.7 370.7 L882.7 332.5 L882.9 330.4 L882.9 408.1 L884.0 411.3 L886.4 418.7 L886.5 431.1 L888.8 435.4 L888.9 465.4 L890.2 471.5 L890.2 408.6 L890.7 397.3 L891.1 398.3 L891.2 410.7 L892.2 414.9 L892.3 421.1 L893.1 425.3 L893.2 433.6 L900.1 440.2 L900.2 470.2 L901.6 476.3 L901.6 411.4 L902.1 400.1 L902.4 402.2 L902.5 412.5 L903.0 415.6 L903.0 423.9 L903.9 428.1 L903.9 436.3 L907.0 440.7 L907.1 440.7 L907.1 560.9 L908.2 613.0 L908.2 552.9 L910.1 561.1 L910.2 420.2 L911.0 397.6 L911.6 394.5 L911.7 477.0 L913.7 482.1 L913.7 373.0 L914.7 334.9 L914.9 332.8 L915.0 410.2 L916.0 413.4 L918.5 420.8 L918.5 433.1 L920.9 437.4 L920.9 467.6 L922.2 473.8 L922.3 410.7 L922.8 399.4 L923.1 400.4 L923.2 412.8 L924.3 417.0 L924.3 423.2 L925.2 427.4 L925.2 435.6 L932.2 442.2 L932.2 472.4 L933.6 478.6 L933.7 413.5 L934.1 402.2 L934.4 404.2 L934.5 414.5 L935.0 417.7 L935.1 425.9 L935.9 430.1 L936.0 438.3 L939.1 442.7 L939.1 442.7 L939.2 563.6 L940.2 616.0 L940.2 555.6 L942.1 563.8 L942.2 422.2 L943.0 399.6 L943.7 396.6 L943.7 479.2 L945.7 484.4 L945.8 375.1 L946.8 337.0 L947.0 334.9 L947.0 412.2 L948.0 415.4 L950.5 422.7 L950.6 435.1 L952.9 439.4 L953.0 469.8 L954.2 476.0 L954.3 412.5 L954.8 401.2 L955.1 402.2 L955.2 414.7 L956.3 418.9 L956.3 425.1 L957.2 429.3 L957.2 437.6 L964.2 444.2 L964.3 474.7 L965.6 480.9 L965.7 415.2 L966.2 403.8 L966.4 405.9 L966.5 416.3 L967.1 419.5 L967.1 427.8 L968.0 432.0 L968.0 440.3 L971.1 444.7 L971.2 444.7 L971.2 566.7 L972.2 619.6 L972.3 558.6 L974.2 566.9 L974.2 424.0 L975.1 401.2 L975.7 398.1 L975.7 481.6 L977.7 486.8 L977.8 376.4 L978.8 337.9 L979.0 335.8 L979.0 413.9 L980.1 417.1 L982.5 424.6 L982.6 437.1 L984.9 441.4 L985.0 472.1 L986.3 478.3 L986.3 414.4 L986.8 403.0 L987.2 404.0 L987.3 416.5 L988.3 420.8 L988.4 427.0 L989.2 431.2 L989.3 439.6 L996.2 446.2 L996.3 477.0 L997.7 483.3 L997.7 417.2 L998.2 405.8 L998.5 407.9 L998.6 418.3 L999.1 421.4 L999.1 429.8 L1000.0 434.0 L1000.0 442.3 L1003.1 446.7 L1003.2 446.7 L1003.2 570.0 L1004.3 623.5 L1004.3 561.9 L1006.2 570.2 L1006.3 426.1 L1007.1 403.2 L1007.7 400.1 L1007.8 484.0 L1009.8 489.2 L1009.8 378.4 L1010.8 340.0 L1011.0 337.9 L1011.1 416.0 L1012.1 419.1 L1014.6 426.6 L1014.6 439.1 L1017.0 443.4 L1017.0 474.2 L1018.3 480.4 L1018.4 416.5 L1018.8 405.1 L1019.2 406.1 L1019.3 418.6 L1020.4 422.8 L1020.4 429.1 L1021.3 433.3 L1021.3 441.6 L1028.3 448.4 L1028.3 479.1 L1029.7 485.3 L1029.8 419.5 L1030.2 408.1 L1030.5 410.2 L1030.6 420.6 L1031.1 423.7 L1031.2 432.0 L1032.0 436.3 L1032.1 444.6 L1035.2 449.0 L1035.2 449.0 L1035.3 571.8 L1036.3 625.0 L1036.3 563.7 L1038.2 572.0 L1038.3 428.6 L1039.1 405.9 L1039.8 402.8 L1039.8 486.3 L1041.8 491.6 L1041.9 381.3 L1042.9 343.0 L1043.1 341.0 L1043.1 418.7 L1044.1 421.9 L1046.6 429.4 L1046.7 441.8 L1049.0 446.1 L1049.1 477.0 L1050.3 483.3 L1050.4 419.4 L1050.9 408.0 L1051.2 409.1 L1051.3 421.5 L1052.4 425.8 L1052.4 432.0 L1053.3 436.2 L1053.3 444.5 L1060.3 451.5 L1060.4 482.3 L1061.7 488.7 L1061.8 422.7 L1062.3 411.3 L1062.5 413.4 L1062.6 423.8 L1063.2 427.0 L1063.2 435.3 L1064.1 439.5 L1064.1 447.8 L1067.2 452.3 L1067.3 452.3 L1067.3 575.9 L1068.3 629.6 L1068.4 567.8 L1070.3 576.3 L1070.3 432.0 L1071.2 409.3 L1071.8 406.3 L1071.8 490.0 L1073.8 495.4 L1073.9 384.8 L1074.9 346.6 L1075.1 344.6 L1075.1 422.3 L1076.2 425.5 L1078.6 433.0 L1078.7 445.5 L1081.0 449.9 L1081.1 481.0 L1082.4 487.4 L1082.4 423.0 L1082.9 411.7 L1083.3 412.7 L1083.4 425.2 L1084.4 429.5 L1084.5 435.8 L1085.3 440.0 L1085.4 448.4 L1092.3 455.6 L1092.4 486.8 L1093.8 493.3 L1093.8 426.6 L1094.3 415.2 L1094.6 417.3 L1094.7 427.8 L1095.2 431.0 L1095.2 439.3 L1096.1 443.6 L1096.1 452.0 L1099.2 456.7 L1099.3 456.7 L1099.3 582.0 L1100.4 636.5 L1100.4 573.8 L1102.3 582.5 L1102.4 436.3 L1103.2 413.4 L1103.8 410.4 L1103.9 495.0 L1105.9 500.5 L1105.9 388.8 L1106.9 350.3 L1107.1 348.2 L1107.2 426.6 L1108.2 429.9 L1110.7 437.5 L1110.7 450.1 L1113.1 454.6 L1113.1 486.4 L1114.4 493.0 L1114.5 427.7 L1114.9 416.3 L1115.3 417.4 L1115.4 429.9 L1116.5 434.3 L1116.5 440.5 L1117.3 444.9 L1117.4 453.2 L1124.4 460.8 L1124.4 493.0 L1125.8 499.8 L1125.9 431.9 L1126.3 420.5 L1126.6 422.6 L1126.7 433.1 L1127.2 436.3 L1127.3 444.7 L1128.1 449.1 L1128.2 457.5 L1131.3 462.3 L1131.3 462.3 L1131.4 591.9 L1132.4 648.2 L1132.4 583.5 L1134.3 592.5 L1134.4 442.1 L1135.2 419.3 L1135.9 416.3 L1135.9 502.2 L1137.9 508.0 L1138.0 394.8 L1139.0 356.3 L1139.1 354.3 L1139.2 432.7 L1140.2 436.0 L1142.7 443.8 L1142.8 456.4 L1145.1 461.1 L1145.2 493.2 L1146.4 499.9 L1146.5 434.0 L1147.0 422.5 L1147.3 423.6 L1147.4 436.3 L1148.5 440.8 L1148.5 447.1 L1149.4 451.5 L1149.4 460.0 L1156.4 468.2 L1156.5 500.2 L1157.8 507.0 L1157.9 438.9 L1158.4 427.4 L1158.6 429.6 L1158.7 440.2 L1159.3 443.6 L1159.3 452.1 L1160.1 456.6 L1160.2 465.1 L1163.3 470.3 L1163.4 470.3 L1163.4 598.0 L1164.4 653.6 L1164.5 589.8 L1166.4 598.9 L1166.4 450.0 L1167.3 426.9 L1167.9 423.9 L1167.9 510.0 L1169.9 516.0 L1170.0 402.2 L1171.0 363.1 L1171.2 361.0 L1171.2 440.9 L1172.3 444.4 L1174.7 452.4 L1174.8 465.3 L1177.1 470.3 L1177.2 502.5 L1178.5 509.4 L1178.5 442.8 L1179.0 431.1 L1179.4 432.3 L1179.5 445.2 L1180.5 449.9 L1180.6 456.3 L1181.4 460.9 L1181.5 469.5 L1188.4 478.3 L1188.5 510.7 L1189.9 517.7 L1189.9 448.5 L1190.4 436.7 L1190.7 439.0 L1190.8 449.8 L1191.3 453.2 L1191.3 461.9 L1192.2 466.6 L1192.2 475.2 L1195.3 480.6 L1195.4 480.7 L1195.4 610.8 L1196.5 667.6 L1196.5 602.5 L1198.4 611.9 L1198.5 460.0 L1199.3 436.4 L1199.9 433.3 L1200.0 521.3 L1202.0 527.4 L1202.0 411.2 L1203.0 371.4 L1203.2 369.2 L1203.3 450.8 L1204.3 454.4 L1206.8 462.8 L1206.8 475.9 L1209.2 481.0 L1209.2 513.5 L1210.5 520.4 L1210.6 453.1 L1211.0 441.3 L1211.4 442.5 L1211.5 455.6 L1212.6 460.3 L1212.6 466.9 L1213.4 471.6 L1213.5 480.3 L1220.5 489.6 L1220.5 522.0 L1221.9 529.0 L1222.0 459.6 L1222.4 447.7 L1222.7 450.0 L1222.8 461.0 L1223.3 464.6 L1223.4 473.4 L1224.2 478.1 L1224.3 486.9 L1227.4 492.6 L1227.4 492.7 L1227.5 621.8 L1228.5 678.1 L1228.5 613.6 L1230.4 623.1 L1230.5 472.1 L1231.3 448.3 L1232.0 445.2 L1232.0 533.4 L1234.0 539.6 L1234.1 423.1 L1235.1 382.9 L1235.2 380.8 L1235.3 463.2 L1236.3 466.9 L1238.8 475.7 L1238.9 488.9 L1241.2 494.3 L1241.3 526.8 L1242.5 533.9 L1242.6 466.3 L1243.1 454.5 L1243.4 455.7 L1243.5 468.9 L1244.6 473.8 L1244.6 480.4 L1245.5 485.2 L1245.5 494.0 L1252.5 503.8 L1252.6 536.4 L1253.9 543.6 L1254.0 473.7 L1254.5 461.8 L1254.7 464.1 L1254.8 475.2 L1255.4 478.7 L1255.4 487.5 L1256.2 492.3 L1256.3 501.1 L1259.4 507.0 L1259.5 507.0 L1259.5 637.9 L1260.5 695.0 L1260.6 629.7 L1262.5 639.3 L1262.5 486.5 L1263.4 462.7 L1264.0 459.7 L1264.0 548.4 L1266.0 554.8 L1266.1 437.6 L1267.1 397.3 L1267.3 395.2 L1267.3 477.7 L1268.3 481.5 L1270.8 490.4 L1270.9 503.6 L1273.2 509.1 L1273.3 542.1 L1274.6 549.3 L1274.6 481.2 L1275.1 469.4 L1275.5 470.6 L1275.6 483.8 L1276.6 488.7 L1276.7 495.3 L1277.5 500.1 L1277.6 508.9 L1284.5 519.0 L1284.6 552.2 L1286.0 559.6 L1286.0 489.1 L1286.5 477.3 L1286.8 479.7 L1286.9 490.7 L1287.4 494.2 L1287.4 503.0 L1288.3 507.8 L1288.3 516.6 L1291.4 522.6 L1291.5 522.7 L1291.5 656.0 L1292.6 714.3 L1292.6 647.7 L1294.5 657.6 L1294.6 502.4 L1295.4 478.8 L1296.0 475.9 L1296.1 565.1 L1298.1 571.7 L1298.1 454.0 L1299.1 414.1 L1299.3 412.0 L1299.4 494.0 L1300.4 497.9 L1302.9 506.4 L1302.9 519.8 L1305.3 525.5 L1305.3 559.0 L1306.6 566.4 L1306.7 497.0 L1307.1 484.9 L1307.5 486.2 L1307.6 499.7 L1308.7 504.7 L1308.7 511.5 L1309.5 516.4 L1309.6 525.5 L1316.6 535.0 L1316.6 568.6 L1318.0 575.7 L1318.1 503.4 L1318.5 490.9 L1318.8 493.2 L1318.9 504.7 L1319.4 508.3 L1319.5 517.5 L1320.3 522.3 L1320.4 531.5 L1323.5 537.0 L1323.5 537.0 L1323.6 671.6 L1324.6 730.1 L1324.6 662.9 L1326.5 672.4 L1326.6 514.7 L1327.4 489.5 L1328.1 486.2 L1328.1 578.7 L1330.1 584.8 L1330.2 462.6 L1331.2 420.1 L1331.3 417.8 L1331.4 504.5 L1332.4 508.3 L1334.9 516.8 L1335.0 530.8 L1337.3 536.2 L1337.4 570.0 L1338.6 577.1 L1338.7 506.0 L1339.2 493.2 L1339.5 494.4 L1339.6 508.6 L1340.7 513.6 L1340.7 520.6 L1341.6 525.6 L1341.6 535.0 L1348.6 543.8 L1348.7 577.4 L1350.0 584.4 L1350.1 510.8 L1350.6 497.8 L1350.8 500.2 L1350.9 512.2 L1351.5 515.8 L1351.5 525.4 L1352.3 530.3 L1352.4 539.9 L1355.5 545.3 L1355.5 545.3 L1355.6 679.7 L1356.6 738.1 L1356.7 671.0 L1358.6 680.3 L1358.6 522.1 L1359.5 495.9 L1360.1 492.5 L1360.1 586.6 L1362.1 592.7 L1362.2 467.8 L1363.2 423.7 L1363.4 421.4 L1363.4 511.1 L1364.4 515.0 L1366.9 524.0 L1367.0 538.3 L1369.3 543.6 L1369.4 578.6 L1370.7 586.0 L1370.7 513.0 L1371.2 500.0 L1371.6 501.3 L1371.7 515.6 L1372.7 520.6 L1372.8 527.7 L1373.6 532.7 L1373.7 542.2 L1380.6 551.4 L1380.7 587.4 L1382.1 595.2 L1382.1 518.8 L1382.6 506.0 L1382.9 508.5 L1383.0 520.3 L1383.5 524.1 L1383.5 533.6 L1384.4 538.6 L1384.4 548.1 L1387.5 554.0 L1387.6 554.0 L1387.6 700.4 L1388.6 764.2 L1388.7 691.0 L1390.6 701.5 L1390.7 531.5 L1391.5 505.9 L1392.1 502.6 L1392.2 599.6 L1394.2 606.5 L1394.2 478.6 L1395.2 435.3 L1395.4 433.0 L1395.5 521.5 L1396.5 525.5 L1399.0 535.4 L1399.0 549.2 L1401.4 554.6 L1401.4 591.3 L1402.7 599.3 L1402.8 525.8 L1403.2 513.7 L1403.6 515.0 L1403.7 528.5 L1404.8 533.5 L1404.8 540.3 L1405.6 545.1 L1405.7 554.1 L1412.7 565.9 L1412.7 603.4 L1414.1 612.4 L1414.2 536.9 L1414.6 525.4 L1414.9 527.9 L1415.0 538.9 L1415.5 542.7 L1415.6 551.5 L1416.4 556.7 L1416.5 565.4 L1419.6 572.9 L1419.6 573.0 L1419.7 724.1 L1420.7 790.6 L1420.7 715.1 L1422.6 727.1 L1422.7 554.8 L1423.5 532.1 L1424.2 529.5 L1424.2 623.0 L1426.2 631.4 L1426.3 509.2 L1427.3 470.6 L1427.4 540.0 L1431.0 548.0 L1433.3 553.0 L1433.4 572.0 L1434.6 578.0 L1434.7 541.0 L1436.2 539.0 L1436.3 558.0 L1437.3 565.0 L1437.4 577.0 L1444.4 592.0 L1444.5 655.0 L1445.9 682.0 L1446.0 582.0 L1447.3 579.0 L1447.4 598.0 L1448.3 606.0 L1448.4 614.0 L1451.6 626.0 L1451.7 850.0 L1452.8 884.0 L1452.9 785.0 L1454.7 796.0 L1454.8 662.0 L1456.2 656.0 L1456.3 700.0 L1458.2 706.0 L1458.3 574.0 L1459.5 572.0 L1459.6 640.0 L1465.2 665.0 L1465.3 760.0 L1466.6 776.0 L1466.7 666.0 L1468.6 664.0 L1469.8 686.0 L1469.9 690.0 L1477.0 770.0 L1477.1 800.0 L1478.3 806.0 L1478.4 728.0 L1479.8 732.0 L1479.9 775.0 L1483.6 800.0 L1483.7 1200.0 L1484.8 1220.0 L1484.9 1200.0 L1486.7 1200.0 L1486.8 838.0 L1488.2 845.0 L1488.3 950.0 L1490.2 960.0 L1490.3 835.0 L1491.5 840.0 L1491.6 900.0 L1494.0 935.0 L1494.1 1020.0 L1495.3 1035.0 L1495.4 940.0 L1497.0 950.0 L1497.1 1010.0 L1498.6 1030.0 L1498.7 985.0 L1500.3 995.0 L1502.0 1170.0" stroke="#ff0a20" stroke-width="7.0"/>
<path d="M309.5 254.0 L310.6 280.0 L312.0 318.0 L313.2 350.0 L314.1 400.0 L314.5 405.0 L314.8 398.0 L317.5 392.0 L321.1 391.0 L323.6 391.0 L323.6 420.0 L325.0 426.0 L325.0 352.0 L325.7 349.0 L325.8 359.0 L326.4 364.0 L326.5 370.0 L327.3 372.0 L327.3 388.0 L330.5 390.0 L330.6 499.1 L331.6 546.4 L331.6 491.8 L333.5 499.1 L333.6 370.9 L334.4 349.9 L335.0 347.0 L335.1 422.7 L337.1 427.3 L337.1 326.9 L338.2 291.6 L338.3 289.7 L338.4 361.3 L339.4 364.2 L341.9 370.8 L341.9 382.3 L344.3 386.2 L344.3 413.6 L345.6 419.0 L345.7 361.2 L346.2 350.7 L346.5 351.6 L346.6 363.1 L347.7 367.0 L347.7 372.7 L348.6 376.6 L348.6 384.2 L355.6 389.9 L355.6 417.1 L357.0 422.5 L357.1 362.9 L357.5 352.3 L357.8 354.2 L357.9 363.8 L358.4 366.7 L358.5 374.4 L359.3 378.2 L359.4 385.9 L362.5 389.7 L362.5 389.7 L362.6 498.4 L363.6 545.5 L363.7 491.1 L365.6 498.3 L365.6 370.3 L366.4 349.1 L367.1 346.1 L367.1 422.1 L369.1 426.6 L369.2 325.8 L370.2 290.1 L370.4 288.2 L370.4 360.5 L371.4 363.4 L373.9 370.0 L374.0 381.6 L376.3 385.4 L376.4 413.0 L377.7 418.5 L377.7 360.3 L378.2 349.6 L378.5 350.6 L378.6 362.2 L379.7 366.0 L379.8 371.8 L380.6 375.6 L380.6 383.3 L387.6 389.2 L387.7 416.9 L389.0 422.6 L389.1 362.3 L389.6 351.7 L389.8 353.7 L389.9 363.3 L390.5 366.3 L390.5 374.0 L391.4 377.9 L391.4 385.6 L394.5 389.7 L394.6 389.7 L394.6 501.0 L395.6 549.2 L395.7 493.6 L397.6 501.1 L397.6 370.6 L398.5 349.4 L399.1 346.5 L399.2 423.3 L401.1 428.1 L401.2 326.4 L402.2 290.8 L402.4 288.9 L402.4 361.2 L403.5 364.2 L406.0 371.0 L406.0 382.6 L408.4 386.7 L408.4 414.8 L409.7 420.4 L409.7 361.5 L410.2 350.9 L410.6 351.9 L410.7 363.5 L411.7 367.5 L411.8 373.3 L412.6 377.2 L412.7 385.0 L419.7 391.2 L419.7 419.3 L421.1 425.0 L421.1 364.1 L421.6 353.4 L421.9 355.4 L422.0 365.1 L422.5 368.0 L422.6 375.8 L423.4 379.8 L423.4 387.6 L426.5 391.7 L426.6 391.7 L426.7 504.1 L427.7 552.9 L427.7 496.7 L429.6 504.3 L429.7 372.4 L430.5 351.0 L431.1 348.1 L431.2 425.7 L433.2 430.5 L433.2 327.7 L434.2 291.7 L434.4 289.8 L434.5 362.9 L435.5 365.9 L438.0 372.9 L438.0 384.6 L440.4 388.6 L440.4 416.9 L441.7 422.6 L441.8 363.5 L442.3 352.8 L442.6 353.8 L442.7 365.5 L443.8 369.5 L443.8 375.3 L444.7 379.2 L444.7 387.0 L451.7 393.2 L451.7 421.4 L453.1 427.1 L453.2 366.2 L453.6 355.6 L453.9 357.6 L454.0 367.3 L454.5 370.2 L454.6 377.9 L455.4 381.9 L455.5 389.6 L458.6 393.7 L458.6 393.7 L458.7 506.3 L459.7 555.2 L459.8 498.9 L461.7 506.5 L461.7 374.5 L462.5 353.3 L463.2 350.5 L463.2 427.7 L465.2 432.6 L465.3 330.3 L466.3 294.6 L466.5 292.7 L466.5 365.2 L467.5 368.1 L470.0 375.0 L470.1 386.6 L472.4 390.7 L472.5 419.0 L473.8 424.8 L473.8 365.6 L474.3 354.9 L474.6 355.9 L474.7 367.6 L475.8 371.5 L475.9 377.3 L476.7 381.2 L476.7 389.0 L483.7 395.2 L483.8 423.6 L485.1 429.4 L485.2 368.2 L485.7 357.5 L485.9 359.5 L486.0 369.2 L486.6 372.1 L486.6 379.9 L487.5 383.8 L487.5 391.6 L490.6 395.7 L490.7 395.7 L490.7 509.4 L491.7 558.8 L491.8 501.9 L493.7 509.6 L493.7 376.5 L494.6 355.2 L495.2 352.3 L495.3 430.1 L497.2 434.9 L497.3 332.1 L498.3 296.2 L498.5 294.3 L498.5 367.1 L499.6 370.0 L502.1 377.0 L502.1 388.6 L504.5 392.6 L504.5 421.2 L505.8 427.0 L505.8 367.5 L506.3 356.8 L506.7 357.8 L506.8 369.5 L507.8 373.4 L507.9 379.3 L508.7 383.2 L508.8 391.0 L515.8 397.5 L515.8 425.9 L517.2 431.8 L517.2 370.5 L517.7 359.8 L518.0 361.8 L518.1 371.5 L518.6 374.5 L518.7 382.3 L519.5 386.3 L519.5 394.1 L522.6 398.3 L522.7 398.3 L522.7 512.3 L523.8 561.8 L523.8 504.8 L525.7 512.7 L525.8 379.3 L526.6 358.0 L527.2 355.2 L527.3 433.1 L529.3 438.1 L529.3 335.1 L530.3 299.3 L530.5 297.3 L530.6 370.2 L531.6 373.2 L534.1 380.4 L534.1 392.0 L536.5 396.2 L536.5 424.8 L537.8 430.6 L537.9 371.2 L538.4 360.6 L538.7 361.6 L538.8 373.2 L539.9 377.3 L539.9 383.1 L540.8 387.0 L540.8 394.8 L547.8 401.6 L547.8 430.1 L549.2 436.0 L549.3 374.8 L549.7 364.2 L550.0 366.2 L550.1 375.9 L550.6 378.9 L550.7 386.6 L551.5 390.6 L551.6 398.3 L554.7 402.7 L554.7 402.7 L554.8 516.7 L555.8 566.3 L555.9 509.3 L557.8 517.2 L557.8 383.9 L558.6 362.8 L559.3 360.0 L559.3 437.6 L561.3 442.7 L561.4 340.1 L562.4 304.5 L562.6 302.6 L562.6 375.0 L563.6 378.0 L566.1 385.1 L566.2 396.7 L568.5 400.9 L568.6 429.5 L569.9 435.4 L569.9 376.0 L570.4 365.4 L570.7 366.4 L570.8 378.1 L571.9 382.1 L572.0 387.9 L572.8 391.9 L572.8 399.7 L579.8 406.5 L579.9 434.9 L581.2 440.7 L581.3 379.5 L581.8 368.8 L582.0 370.8 L582.1 380.5 L582.7 383.5 L582.7 391.3 L583.6 395.3 L583.6 403.1 L586.7 407.3 L586.8 407.3 L586.8 520.9 L587.8 570.2 L587.9 513.4 L589.8 521.2 L589.8 388.3 L590.7 367.0 L591.3 364.2 L591.4 442.0 L593.3 446.9 L593.4 344.0 L594.4 308.2 L594.6 306.2 L594.6 379.2 L595.7 382.2 L598.2 389.4 L598.2 401.0 L600.6 405.2 L600.6 433.8 L601.9 439.7 L601.9 380.2 L602.4 369.6 L602.8 370.6 L602.9 382.2 L603.9 386.3 L604.0 392.1 L604.8 396.0 L604.9 403.8 L611.9 410.7 L611.9 439.3 L613.3 445.3 L613.3 383.9 L613.8 373.4 L614.1 375.4 L614.2 385.1 L614.7 388.1 L614.8 395.8 L615.6 399.8 L615.6 407.6 L618.7 412.0 L618.8 412.0 L618.8 526.8 L619.9 576.8 L619.9 519.4 L621.8 527.4 L621.9 393.3 L622.7 372.2 L623.3 369.5 L623.4 447.3 L625.4 452.5 L625.4 349.6 L626.4 314.1 L626.6 312.3 L626.7 384.6 L627.7 387.6 L630.2 394.9 L630.2 406.4 L632.6 410.7 L632.6 439.4 L633.9 445.4 L634.0 386.0 L634.5 375.5 L634.8 376.5 L634.9 388.1 L636.0 392.1 L636.0 397.9 L636.9 401.9 L636.9 409.6 L643.9 416.6 L643.9 445.1 L645.3 451.1 L645.4 389.9 L645.8 379.5 L646.1 381.4 L646.2 391.0 L646.7 394.0 L646.8 401.7 L647.6 405.7 L647.7 413.3 L650.8 417.7 L650.8 417.7 L650.9 531.7 L651.9 581.3 L651.9 524.3 L653.9 532.2 L653.9 399.0 L654.7 378.0 L655.4 375.2 L655.4 452.6 L657.4 457.7 L657.5 355.4 L658.5 320.1 L658.7 318.2 L658.7 390.1 L659.7 393.2 L662.2 400.3 L662.3 411.8 L664.6 416.0 L664.7 444.5 L666.0 450.4 L666.0 391.3 L666.5 380.8 L666.8 381.8 L666.9 393.3 L668.0 397.3 L668.1 403.1 L668.9 407.1 L668.9 414.7 L675.9 421.5 L676.0 450.0 L677.3 455.8 L677.4 394.8 L677.9 384.3 L678.1 386.3 L678.2 395.9 L678.8 398.8 L678.8 406.5 L679.7 410.4 L679.7 418.1 L682.8 422.3 L682.9 422.3 L682.9 536.3 L683.9 585.8 L684.0 528.8 L685.9 536.7 L685.9 403.6 L686.8 382.6 L687.4 379.8 L687.5 457.1 L689.4 462.1 L689.5 359.9 L690.5 324.6 L690.7 322.7 L690.7 394.6 L691.8 397.6 L694.2 404.6 L694.3 416.1 L696.7 420.2 L696.7 448.8 L698.0 454.7 L698.0 395.4 L698.5 384.9 L698.9 385.9 L699.0 397.5 L700.0 401.4 L700.1 407.2 L700.9 411.1 L701.0 418.8 L708.0 425.4 L708.0 454.0 L709.4 459.8 L709.4 398.6 L709.9 388.0 L710.2 390.0 L710.3 399.6 L710.8 402.5 L710.9 410.2 L711.7 414.2 L711.7 421.9 L714.8 426.0 L714.9 426.0 L714.9 540.5 L716.0 590.2 L716.0 533.0 L717.9 540.8 L718.0 407.0 L718.8 385.9 L719.4 383.1 L719.5 460.8 L721.5 465.7 L721.5 363.1 L722.5 327.6 L722.7 325.7 L722.8 397.9 L723.8 400.8 L726.3 407.8 L726.3 419.3 L728.7 423.4 L728.7 452.2 L730.0 458.1 L730.1 398.4 L730.6 387.8 L730.9 388.8 L731.0 400.4 L732.1 404.4 L732.1 410.2 L733.0 414.2 L733.0 421.9 L740.0 428.4 L740.0 457.2 L741.4 463.1 L741.5 401.3 L741.9 390.7 L742.2 392.7 L742.3 402.4 L742.8 405.3 L742.9 413.1 L743.7 417.1 L743.8 424.8 L746.9 429.0 L746.9 429.0 L747.0 544.5 L748.0 594.7 L748.0 536.9 L750.0 544.8 L750.0 409.9 L750.8 388.6 L751.5 385.7 L751.5 464.1 L753.5 469.1 L753.6 365.6 L754.6 329.7 L754.8 327.8 L754.8 400.6 L755.8 403.6 L758.3 410.6 L758.4 422.3 L760.7 426.4 L760.8 455.3 L762.1 461.2 L762.1 401.2 L762.6 390.6 L762.9 391.6 L763.0 403.3 L764.1 407.2 L764.2 413.1 L765.0 417.1 L765.0 424.9 L772.0 431.4 L772.1 460.2 L773.4 466.1 L773.5 404.2 L774.0 393.5 L774.2 395.5 L774.3 405.2 L774.9 408.2 L774.9 416.0 L775.8 420.0 L775.8 427.8 L778.9 432.0 L779.0 432.0 L779.0 547.5 L780.0 597.7 L780.1 539.9 L782.0 547.8 L782.0 412.8 L782.9 391.4 L783.5 388.5 L783.5 467.1 L785.5 472.1 L785.6 368.2 L786.6 332.2 L786.8 330.2 L786.8 403.5 L787.9 406.5 L790.3 413.5 L790.4 425.3 L792.8 429.4 L792.8 458.3 L794.1 464.1 L794.1 404.1 L794.6 393.4 L795.0 394.4 L795.1 406.1 L796.1 410.1 L796.2 416.0 L797.0 420.0 L797.1 427.8 L804.1 434.2 L804.1 463.0 L805.5 468.8 L805.5 406.9 L806.0 396.2 L806.3 398.2 L806.4 407.9 L806.9 410.9 L807.0 418.8 L807.8 422.7 L807.8 430.6 L810.9 434.7 L811.0 434.7 L811.0 549.5 L812.1 599.3 L812.1 541.9 L814.0 549.7 L814.1 415.3 L814.9 393.8 L815.5 390.9 L815.6 469.4 L817.6 474.3 L817.6 370.4 L818.6 334.3 L818.8 332.3 L818.9 405.8 L819.9 408.8 L822.4 415.7 L822.4 427.5 L824.8 431.6 L824.8 460.5 L826.1 466.3 L826.2 406.1 L826.7 395.3 L827.0 396.3 L827.1 408.1 L828.2 412.1 L828.2 418.0 L829.1 422.0 L829.1 429.9 L836.1 436.2 L836.1 465.1 L837.5 470.9 L837.6 408.7 L838.0 397.8 L838.3 399.8 L838.4 409.7 L838.9 412.7 L839.0 420.6 L839.8 424.6 L839.9 432.5 L843.0 436.7 L843.0 436.7 L843.1 552.2 L844.1 602.3 L844.1 544.5 L846.0 552.4 L846.1 417.1 L846.9 395.4 L847.6 392.4 L847.6 471.6 L849.6 476.5 L849.7 371.8 L850.7 335.2 L850.9 333.3 L850.9 407.5 L851.9 410.5 L854.4 417.6 L854.5 429.5 L856.8 433.6 L856.9 462.6 L858.2 468.5 L858.2 407.9 L858.7 397.0 L859.0 398.0 L859.1 409.9 L860.2 413.9 L860.3 419.9 L861.1 423.9 L861.1 431.8 L868.1 438.2 L868.2 467.2 L869.5 473.1 L869.6 410.5 L870.1 399.6 L870.3 401.6 L870.4 411.6 L871.0 414.6 L871.0 422.5 L871.9 426.5 L871.9 434.5 L875.0 438.7 L875.1 438.7 L875.1 554.9 L876.1 605.3 L876.2 547.2 L878.1 555.0 L878.1 419.0 L879.0 397.2 L879.6 394.2 L879.6 473.8 L881.6 478.8 L881.7 373.5 L882.7 336.8 L882.9 334.8 L882.9 409.3 L884.0 412.4 L886.4 419.5 L886.5 431.4 L888.8 435.6 L888.9 464.8 L890.2 470.7 L890.2 409.8 L890.7 399.0 L891.1 400.0 L891.2 411.9 L892.2 415.9 L892.3 421.9 L893.1 425.9 L893.2 433.8 L900.1 440.2 L900.2 469.5 L901.6 475.4 L901.6 412.6 L902.1 401.7 L902.4 403.7 L902.5 413.6 L903.0 416.6 L903.0 424.6 L903.9 428.6 L903.9 436.5 L907.0 440.7 L907.1 440.7 L907.1 557.9 L908.2 608.7 L908.2 550.1 L910.1 558.1 L910.2 421.1 L911.0 399.3 L911.6 396.4 L911.7 476.1 L913.7 481.1 L913.7 375.7 L914.7 339.1 L914.9 337.2 L915.0 411.5 L916.0 414.5 L918.5 421.6 L918.5 433.5 L920.9 437.6 L920.9 467.0 L922.2 473.0 L922.3 411.9 L922.8 401.1 L923.1 402.1 L923.2 414.0 L924.3 418.0 L924.3 423.9 L925.2 427.9 L925.2 435.9 L932.2 442.2 L932.2 471.7 L933.6 477.7 L933.7 414.6 L934.1 403.8 L934.4 405.8 L934.5 415.7 L935.0 418.7 L935.1 426.6 L935.9 430.6 L936.0 438.5 L939.1 442.7 L939.1 442.7 L939.2 560.6 L940.2 611.7 L940.2 552.8 L942.1 560.7 L942.2 423.1 L943.0 401.4 L943.7 398.4 L943.7 478.3 L945.7 483.4 L945.8 377.8 L946.8 341.2 L947.0 339.3 L947.0 413.5 L948.0 416.5 L950.5 423.5 L950.6 435.4 L952.9 439.6 L953.0 469.2 L954.2 475.2 L954.3 413.8 L954.8 402.9 L955.1 403.9 L955.2 415.8 L956.3 419.9 L956.3 425.8 L957.2 429.9 L957.2 437.8 L964.2 444.2 L964.3 473.9 L965.6 480.0 L965.7 416.4 L966.2 405.4 L966.4 407.4 L966.5 417.4 L967.1 420.5 L967.1 428.4 L968.0 432.5 L968.0 440.5 L971.1 444.7 L971.2 444.7 L971.2 563.6 L972.2 615.3 L972.3 555.8 L974.2 563.8 L974.2 424.9 L975.1 402.9 L975.7 400.0 L975.7 480.6 L977.7 485.7 L977.8 379.1 L978.8 342.2 L979.0 340.2 L979.0 415.2 L980.1 418.2 L982.5 425.4 L982.6 437.4 L984.9 441.5 L985.0 471.4 L986.3 477.5 L986.3 415.6 L986.8 404.7 L987.2 405.7 L987.3 417.7 L988.3 421.8 L988.4 427.8 L989.2 431.8 L989.3 439.8 L996.2 446.2 L996.3 476.2 L997.7 482.3 L997.7 418.4 L998.2 407.4 L998.5 409.4 L998.6 419.4 L999.1 422.4 L999.1 430.4 L1000.0 434.5 L1000.0 442.5 L1003.1 446.7 L1003.2 446.7 L1003.2 566.9 L1004.3 619.1 L1004.3 559.0 L1006.2 567.1 L1006.3 426.9 L1007.1 405.0 L1007.7 402.0 L1007.8 483.0 L1009.8 488.2 L1009.8 381.2 L1010.8 344.3 L1011.0 342.3 L1011.1 417.2 L1012.1 420.3 L1014.6 427.4 L1014.6 439.4 L1017.0 443.5 L1017.0 473.5 L1018.3 479.6 L1018.4 417.7 L1018.8 406.8 L1019.2 407.8 L1019.3 419.8 L1020.4 423.8 L1020.4 429.8 L1021.3 433.8 L1021.3 441.8 L1028.3 448.4 L1028.3 478.3 L1029.7 484.4 L1029.8 420.6 L1030.2 409.7 L1030.5 411.7 L1030.6 421.7 L1031.1 424.7 L1031.2 432.7 L1032.0 436.8 L1032.1 444.7 L1035.2 449.0 L1035.2 449.0 L1035.3 568.7 L1036.3 620.7 L1036.3 560.8 L1038.2 569.0 L1038.3 429.4 L1039.1 407.6 L1039.8 404.7 L1039.8 485.3 L1041.8 490.5 L1041.9 384.0 L1042.9 347.3 L1043.1 345.3 L1043.1 419.9 L1044.1 423.0 L1046.6 430.2 L1046.7 442.1 L1049.0 446.3 L1049.1 476.3 L1050.3 482.4 L1050.4 420.6 L1050.9 409.7 L1051.2 410.7 L1051.3 422.7 L1052.4 426.7 L1052.4 432.7 L1053.3 436.8 L1053.3 444.7 L1060.3 451.5 L1060.4 481.5 L1061.7 487.7 L1061.8 423.8 L1062.3 412.9 L1062.5 415.0 L1062.6 424.9 L1063.2 428.0 L1063.2 435.9 L1064.1 440.0 L1064.1 448.0 L1067.2 452.3 L1067.3 452.3 L1067.3 572.8 L1068.3 625.1 L1068.4 564.9 L1070.3 573.2 L1070.3 432.8 L1071.2 411.1 L1071.8 408.2 L1071.8 489.0 L1073.8 494.3 L1073.9 387.6 L1074.9 350.9 L1075.1 348.9 L1075.1 423.5 L1076.2 426.6 L1078.6 433.8 L1078.7 445.8 L1081.0 450.1 L1081.1 480.3 L1082.4 486.6 L1082.4 424.3 L1082.9 413.4 L1083.3 414.4 L1083.4 426.4 L1084.4 430.5 L1084.5 436.5 L1085.3 440.6 L1085.4 448.6 L1092.3 455.6 L1092.4 486.0 L1093.8 492.4 L1093.8 427.8 L1094.3 416.8 L1094.6 418.9 L1094.7 428.9 L1095.2 432.0 L1095.2 440.0 L1096.1 444.1 L1096.1 452.2 L1099.2 456.7 L1099.3 456.7 L1099.3 578.9 L1100.4 632.0 L1100.4 570.9 L1102.3 579.3 L1102.4 437.1 L1103.2 415.2 L1103.8 412.3 L1103.9 494.0 L1105.9 499.4 L1105.9 391.5 L1106.9 354.6 L1107.1 352.6 L1107.2 427.8 L1108.2 431.0 L1110.7 438.4 L1110.7 450.4 L1113.1 454.8 L1113.1 485.7 L1114.4 492.1 L1114.5 428.9 L1114.9 418.0 L1115.3 419.0 L1115.4 431.1 L1116.5 435.3 L1116.5 441.3 L1117.3 445.4 L1117.4 453.5 L1124.4 460.8 L1124.4 492.2 L1125.8 498.8 L1125.9 433.0 L1126.3 422.1 L1126.6 424.2 L1126.7 434.2 L1127.2 437.4 L1127.3 445.4 L1128.1 449.6 L1128.2 457.6 L1131.3 462.3 L1131.3 462.3 L1131.4 588.6 L1132.4 643.6 L1132.4 580.4 L1134.3 589.3 L1134.4 442.9 L1135.2 421.0 L1135.9 418.2 L1135.9 501.2 L1137.9 506.9 L1138.0 397.5 L1139.0 360.6 L1139.1 358.6 L1139.2 433.9 L1140.2 437.2 L1142.7 444.6 L1142.8 456.8 L1145.1 461.3 L1145.2 492.5 L1146.4 499.1 L1146.5 435.3 L1147.0 424.2 L1147.3 425.3 L1147.4 437.5 L1148.5 441.8 L1148.5 447.9 L1149.4 452.1 L1149.4 460.2 L1156.4 468.2 L1156.5 499.4 L1157.8 506.0 L1157.9 440.1 L1158.4 429.0 L1158.6 431.2 L1158.7 441.4 L1159.3 444.6 L1159.3 452.8 L1160.1 457.1 L1160.2 465.3 L1163.3 470.3 L1163.4 470.3 L1163.4 594.8 L1164.4 649.0 L1164.5 586.8 L1166.4 595.7 L1166.4 450.9 L1167.3 428.6 L1167.9 425.8 L1167.9 509.1 L1169.9 514.9 L1170.0 405.0 L1171.0 367.5 L1171.2 365.5 L1171.2 442.1 L1172.3 445.5 L1174.7 453.3 L1174.8 465.7 L1177.1 470.5 L1177.2 501.8 L1178.5 508.5 L1178.5 444.1 L1179.0 432.9 L1179.4 434.0 L1179.5 446.4 L1180.5 450.9 L1180.6 457.1 L1181.4 461.5 L1181.5 469.8 L1188.4 478.3 L1188.5 509.9 L1189.9 516.7 L1189.9 449.7 L1190.4 438.4 L1190.7 440.6 L1190.8 451.0 L1191.3 454.3 L1191.3 462.6 L1192.2 467.1 L1192.2 475.4 L1195.3 480.6 L1195.4 480.7 L1195.4 607.6 L1196.5 662.9 L1196.5 599.5 L1198.4 608.6 L1198.5 460.9 L1199.3 438.2 L1199.9 435.3 L1200.0 520.3 L1202.0 526.3 L1202.0 414.1 L1203.0 375.8 L1203.2 373.8 L1203.3 452.1 L1204.3 455.6 L1206.8 463.6 L1206.8 476.2 L1209.2 481.2 L1209.2 512.8 L1210.5 519.6 L1210.6 454.4 L1211.0 443.1 L1211.4 444.2 L1211.5 456.8 L1212.6 461.4 L1212.6 467.7 L1213.4 472.2 L1213.5 480.6 L1220.5 489.6 L1220.5 521.2 L1221.9 528.1 L1222.0 460.8 L1222.4 449.4 L1222.7 451.7 L1222.8 462.2 L1223.3 465.6 L1223.4 474.1 L1224.2 478.6 L1224.3 487.1 L1227.4 492.6 L1227.4 492.7 L1227.5 618.5 L1228.5 673.5 L1228.5 610.6 L1230.4 619.8 L1230.5 472.9 L1231.3 450.1 L1232.0 447.2 L1232.0 532.4 L1234.0 538.5 L1234.1 426.0 L1235.1 387.5 L1235.2 385.4 L1235.3 464.5 L1236.3 468.1 L1238.8 476.6 L1238.9 489.2 L1241.2 494.5 L1241.3 526.1 L1242.5 533.1 L1242.6 467.7 L1243.1 456.3 L1243.4 457.5 L1243.5 470.2 L1244.6 474.9 L1244.6 481.2 L1245.5 485.8 L1245.5 494.3 L1252.5 503.8 L1252.6 535.6 L1253.9 542.6 L1254.0 474.9 L1254.5 463.5 L1254.7 465.7 L1254.8 476.3 L1255.4 479.8 L1255.4 488.2 L1256.2 492.8 L1256.3 501.3 L1259.4 507.0 L1259.5 507.0 L1259.5 634.6 L1260.5 690.4 L1260.6 626.6 L1262.5 636.0 L1262.5 487.3 L1263.4 464.5 L1264.0 461.6 L1264.0 547.4 L1266.0 553.7 L1266.1 440.5 L1267.1 401.9 L1267.3 399.9 L1267.3 479.0 L1268.3 482.7 L1270.8 491.3 L1270.9 503.9 L1273.2 509.2 L1273.3 541.3 L1274.6 548.4 L1274.6 482.5 L1275.1 471.2 L1275.5 472.4 L1275.6 485.1 L1276.6 489.8 L1276.7 496.1 L1277.5 500.7 L1277.6 509.2 L1284.5 519.0 L1284.6 551.4 L1286.0 558.6 L1286.0 490.3 L1286.5 479.0 L1286.8 481.3 L1286.9 491.8 L1287.4 495.3 L1287.4 503.7 L1288.3 508.4 L1288.3 516.8 L1291.4 522.6 L1291.5 522.7 L1291.5 652.7 L1292.6 709.5 L1292.6 644.6 L1294.5 654.2 L1294.6 503.3 L1295.4 480.6 L1296.0 477.8 L1296.1 564.1 L1298.1 570.6 L1298.1 456.9 L1299.1 418.6 L1299.3 416.6 L1299.4 495.4 L1300.4 499.0 L1302.9 507.3 L1302.9 520.2 L1305.3 525.7 L1305.3 558.3 L1306.6 565.5 L1306.7 498.4 L1307.1 486.7 L1307.5 488.0 L1307.6 501.0 L1308.7 505.8 L1308.7 512.3 L1309.5 517.1 L1309.6 525.8 L1316.6 535.0 L1316.6 567.8 L1318.0 574.7 L1318.1 504.7 L1318.5 492.7 L1318.8 494.9 L1318.9 506.0 L1319.4 509.4 L1319.5 518.2 L1320.3 522.9 L1320.4 531.7 L1323.5 537.0 L1323.5 537.0 L1323.6 668.2 L1324.6 725.3 L1324.6 659.8 L1326.5 669.0 L1326.6 515.7 L1327.4 491.5 L1328.1 488.3 L1328.1 577.6 L1330.1 583.7 L1330.2 465.6 L1331.2 424.8 L1331.3 422.7 L1331.4 505.9 L1332.4 509.5 L1334.9 517.7 L1335.0 531.2 L1337.3 536.4 L1337.4 569.3 L1338.6 576.2 L1338.7 507.4 L1339.2 495.1 L1339.5 496.3 L1339.6 509.9 L1340.7 514.7 L1340.7 521.5 L1341.6 526.2 L1341.6 535.3 L1348.6 543.8 L1348.7 576.6 L1350.0 583.4 L1350.1 512.2 L1350.6 499.7 L1350.8 502.0 L1350.9 513.4 L1351.5 517.0 L1351.5 526.1 L1352.3 530.9 L1352.4 540.1 L1355.5 545.3 L1355.5 545.3 L1355.6 676.3 L1356.6 733.3 L1356.7 667.8 L1358.6 677.0 L1358.6 523.0 L1359.5 497.9 L1360.1 494.6 L1360.1 585.6 L1362.1 591.5 L1362.2 470.9 L1363.2 428.6 L1363.4 426.4 L1363.4 512.6 L1364.4 516.3 L1366.9 525.0 L1367.0 538.7 L1369.3 543.8 L1369.4 577.8 L1370.7 585.0 L1370.7 514.4 L1371.2 502.0 L1371.6 503.2 L1371.7 516.9 L1372.7 521.7 L1372.8 528.6 L1373.6 533.3 L1373.7 542.5 L1380.6 551.4 L1380.7 586.5 L1382.1 594.1 L1382.1 520.1 L1382.6 507.8 L1382.9 510.2 L1383.0 521.6 L1383.5 525.2 L1383.5 534.3 L1384.4 539.2 L1384.4 548.3 L1387.5 554.0 L1387.6 554.0 L1387.6 696.7 L1388.6 759.0 L1388.7 687.6 L1390.6 697.8 L1390.7 532.5 L1391.5 507.9 L1392.1 504.7 L1392.2 598.5 L1394.2 605.2 L1394.2 481.7 L1395.2 440.1 L1395.4 437.9 L1395.5 523.0 L1396.5 526.7 L1399.0 536.3 L1399.0 549.5 L1401.4 554.8 L1401.4 590.5 L1402.7 598.3 L1402.8 527.2 L1403.2 515.5 L1403.6 516.8 L1403.7 529.8 L1404.8 534.6 L1404.8 541.1 L1405.6 545.7 L1405.7 554.3 L1412.7 565.9 L1412.7 602.5 L1414.1 611.3 L1414.2 538.1 L1414.6 527.1 L1414.9 529.5 L1415.0 540.1 L1415.5 543.8 L1415.6 552.2 L1416.4 557.2 L1416.5 565.6 L1419.6 572.9 L1419.6 573.0 L1419.7 720.3 L1420.7 785.1 L1420.7 711.6 L1422.6 723.4 L1422.7 555.6 L1423.5 533.9 L1424.2 531.4 L1424.2 621.9 L1426.2 630.1 L1426.3 512.0 L1427.3 475.0 L1427.4 540.0 L1431.0 548.0 L1433.3 553.0 L1433.4 572.0 L1434.6 578.0 L1434.7 541.0 L1436.2 539.0 L1436.3 558.0 L1437.3 565.0 L1437.4 577.0 L1444.4 592.0 L1444.5 655.0 L1445.9 682.0 L1446.0 582.0 L1447.3 579.0 L1447.4 598.0 L1448.3 606.0 L1448.4 614.0 L1451.6 626.0 L1451.7 850.0 L1452.8 884.0 L1452.9 785.0 L1454.7 796.0 L1454.8 662.0 L1456.2 656.0 L1456.3 700.0 L1458.2 706.0 L1458.3 574.0 L1459.5 572.0 L1459.6 640.0 L1465.2 665.0 L1465.3 760.0 L1466.6 776.0 L1466.7 666.0 L1468.6 664.0 L1469.8 686.0 L1469.9 690.0 L1477.0 770.0 L1477.1 800.0 L1478.3 806.0 L1478.4 728.0 L1479.8 732.0 L1479.9 775.0 L1483.6 800.0 L1483.7 1200.0 L1484.8 1220.0 L1484.9 1200.0 L1486.7 1200.0 L1486.8 838.0 L1488.2 845.0 L1488.3 950.0 L1490.2 960.0 L1490.3 835.0 L1491.5 840.0 L1491.6 900.0 L1494.0 935.0 L1494.1 1020.0 L1495.3 1035.0 L1495.4 940.0 L1497.0 950.0 L1497.1 1010.0 L1498.6 1030.0 L1498.7 985.0 L1500.3 995.0 L1502.0 1170.0" stroke="#000" stroke-width="3.2"/>
</g>
<text x="210.5" y="72.3" font-size="75" text-anchor="end">3.6</text>
<text x="210.5" y="293.0" font-size="75" text-anchor="end">3.4</text>
<text x="210.5" y="513.7" font-size="75" text-anchor="end">3.2</text>
<text x="210.5" y="734.4" font-size="75" text-anchor="end">3.0</text>
<text x="210.5" y="955.1" font-size="75" text-anchor="end">2.8</text>
<text x="210.5" y="1175.8" font-size="75" text-anchor="end">2.6</text>
<text x="309.2" y="1256.5" font-size="63" text-anchor="middle" letter-spacing="-0.7">0</text>
<text x="487.2" y="1256.5" font-size="63" text-anchor="middle" letter-spacing="-0.7">2000</text>
<text x="665.1" y="1256.5" font-size="63" text-anchor="middle" letter-spacing="-0.7">4000</text>
<text x="843.1" y="1256.5" font-size="63" text-anchor="middle" letter-spacing="-0.7">6000</text>
<text x="1021.0" y="1256.5" font-size="63" text-anchor="middle" letter-spacing="-0.7">8000</text>
<text x="1199.0" y="1256.5" font-size="63" text-anchor="middle" letter-spacing="-0.7">10,000</text>
<text x="1377.0" y="1256.5" font-size="63" text-anchor="middle" letter-spacing="-0.7">12,000</text>
<text x="1554.9" y="1256.5" font-size="63" text-anchor="middle" letter-spacing="-0.7">14,000</text>
<text x="956.6" y="1337" font-size="72" text-anchor="middle">Time(s)</text>
<text transform="translate(69.3 626.4) rotate(-90)" x="0" y="0" font-size="75" text-anchor="middle">Voltage(V)</text>
<path d="M1035.3 106.2H1175.5" stroke="#000" stroke-width="3.2"/>
<path d="M1033.9 183.9H1176.9" stroke="#ff3c3c" stroke-width="5.4"/>
<path d="M1036.5 263.3H1174.3" stroke="#0072e5" stroke-width="18.3" stroke-linecap="round"/>
<text x="1191" y="126.5" font-size="61.5">Battery</text>
<text x="1191" y="203.9" font-size="61.5">Hysteresis model</text>
<text x="1191" y="283.1" font-size="61.5">Ordinary model</text>
<path d="M734.6 628.9V669" stroke="#000" stroke-width="2.8"/>
<path d="M717.2 668.2H752.1L738.1 729.5 731.7 729.5Z" fill="#000"/>
<rect x="489" y="734.4" width="557" height="299.4" fill="#fff"/>
<path d="M494 798.5H538.9 M494 895.1H538.9 M494 991.7H538.9 M494 750.2H512.9 M494 846.8H512.9 M494 943.4H512.9 M641.7 1029V982.3 M834.0 1029V982.3 M1026.3 1029V982.3 M545.6 1029V1008.5 M737.9 1029V1008.5 M930.2 1029V1008.5" stroke="#000" stroke-width="10" fill="none"/>
<rect x="489" y="734.4" width="557" height="299.4" fill="none" stroke="#000" stroke-width="10"/>
<g clip-path="url(#ci)" fill="none" stroke-linejoin="round" stroke-linecap="round">
<path d="M451.9 877.6 L452.1 850.2 L454.2 845.3 L455.7 845.8 L456.1 851.2 L460.7 853.1 L460.9 855.8 L464.5 857.6 L464.7 861.2 L494.8 864.4 L495.0 877.4 L500.9 880.1 L501.1 851.8 L503.2 846.9 L504.4 847.8 L504.7 852.3 L507.0 853.7 L507.3 857.3 L510.9 859.2 L511.1 862.8 L524.4 864.7 L524.7 864.7 L524.9 916.9 L529.3 939.6 L529.5 913.5 L537.7 917.1 L537.9 855.9 L541.5 846.1 L544.2 844.7 L544.5 880.6 L553.0 882.9 L553.3 835.4 L557.6 818.8 L558.4 817.9 L558.6 851.7 L563.0 853.1 L573.7 856.3 L574.0 861.8 L584.1 863.7 L584.3 876.8 L589.8 879.5 L590.1 852.0 L592.1 847.1 L593.7 847.6 L594.0 853.0 L598.6 854.9 L598.9 857.6 L602.5 859.4 L602.7 863.0 L632.7 866.1 L633.0 879.2 L638.9 881.8 L639.1 853.5 L641.2 848.5 L642.3 849.4 L642.7 854.0 L645.0 855.3 L645.2 859.0 L648.8 860.8 L649.1 864.4 L662.4 866.3 L662.6 866.3 L662.9 918.8 L667.2 941.5 L667.5 915.3 L675.7 918.9 L675.9 857.4 L679.5 847.5 L682.2 846.2 L682.4 882.3 L691.0 884.5 L691.2 836.8 L695.6 820.1 L696.4 819.2 L696.6 853.1 L701.0 854.5 L711.7 857.7 L711.9 863.2 L722.0 865.1 L722.3 878.3 L727.8 881.0 L728.0 853.4 L730.1 848.4 L731.6 848.8 L732.0 854.3 L736.6 856.2 L736.8 858.9 L740.4 860.7 L740.7 864.4 L770.7 867.4 L770.9 880.6 L776.8 883.3 L777.1 854.7 L779.1 849.7 L780.3 850.6 L780.7 855.2 L783.0 856.6 L783.2 860.2 L786.8 862.1 L787.0 865.7 L800.4 867.7 L800.6 867.7 L800.8 920.6 L805.2 943.5 L805.4 917.1 L813.6 920.7 L813.9 858.7 L817.5 848.7 L820.2 847.3 L820.4 883.7 L829.0 886.0 L829.2 837.8 L833.6 821.0 L834.3 820.1 L834.6 854.3 L838.9 855.7 L849.7 859.0 L849.9 864.5 L860.0 866.4 L860.2 879.7 L865.8 882.4 L866.0 854.6 L868.1 849.6 L869.6 850.0 L870.0 855.5 L874.6 857.4 L874.8 860.1 L878.4 862.0 L878.6 865.7 L908.7 868.7 L908.9 881.9 L914.8 884.6 L915.0 855.9 L917.1 850.9 L918.3 851.8 L918.6 856.4 L920.9 857.8 L921.2 861.5 L924.8 863.3 L925.0 867.0 L938.3 869.0 L938.6 869.0 L938.8 921.9 L943.2 944.8 L943.4 918.4 L951.6 922.0 L951.8 859.9 L955.4 849.9 L958.1 848.5 L958.3 885.0 L966.9 887.3 L967.2 839.0 L971.5 822.1 L972.3 821.2 L972.5 855.5 L976.9 857.0 L987.6 860.3 L987.9 865.8 L998.0 867.7 L998.2 881.0 L1003.7 883.7 L1004.0 855.8 L1006.0 850.8 L1007.6 851.3 L1007.9 856.8 L1012.5 858.7 L1012.8 861.4 L1016.4 863.3 L1016.6 867.0 L1046.6 869.9 L1046.9 883.1 L1052.8 885.8 L1053.0 857.1 L1055.1 852.1 L1056.2 853.0 L1056.6 857.6 L1058.9 859.0 L1059.1 862.7 L1062.7 864.5 L1063.0 868.2 L1076.3 870.1 L1076.5 870.1 L1076.8 922.7 L1081.1 945.5 L1081.4 919.2 L1089.6 922.8 L1089.8 861.0 L1093.4 850.9 L1096.1 849.6 L1096.3 886.0" stroke="#0072e5" stroke-width="13"/>
<path d="M451.9 877.4 L452.1 850.6 L454.2 845.8 L455.7 846.3 L456.1 851.6 L460.7 853.4 L460.9 856.0 L464.5 857.8 L464.7 861.3 L494.8 864.4 L495.0 877.2 L500.9 879.8 L501.1 852.2 L503.2 847.4 L504.4 848.3 L504.7 852.7 L507.0 854.0 L507.3 857.5 L510.9 859.3 L511.1 862.8 L524.4 864.7 L524.7 864.7 L524.9 915.9 L529.3 938.1 L529.5 912.5 L537.7 916.1 L537.9 856.2 L541.5 846.6 L544.2 845.3 L544.5 880.3 L553.0 882.6 L553.3 836.3 L557.6 820.2 L558.4 819.3 L558.6 852.1 L563.0 853.4 L573.7 856.6 L574.0 861.9 L584.1 863.7 L584.3 876.6 L589.8 879.2 L590.1 852.4 L592.1 847.6 L593.7 848.1 L594.0 853.4 L598.6 855.2 L598.9 857.8 L602.5 859.6 L602.7 863.1 L632.7 866.1 L633.0 878.9 L638.9 881.5 L639.1 853.8 L641.2 849.0 L642.3 849.9 L642.7 854.3 L645.0 855.7 L645.2 859.2 L648.8 860.9 L649.1 864.5 L662.4 866.3 L662.6 866.3 L662.9 917.8 L667.2 940.1 L667.5 914.4 L675.7 917.9 L675.9 857.7 L679.5 848.1 L682.2 846.8 L682.4 882.0 L691.0 884.2 L691.2 837.7 L695.6 821.5 L696.4 820.6 L696.6 853.5 L701.0 854.9 L711.7 858.0 L711.9 863.3 L722.0 865.1 L722.3 878.1 L727.8 880.7 L728.0 853.7 L730.1 848.9 L731.6 849.4 L732.0 854.7 L736.6 856.5 L736.8 859.1 L740.4 860.9 L740.7 864.4 L770.7 867.4 L770.9 880.3 L776.8 883.0 L777.1 855.1 L779.1 850.2 L780.3 851.1 L780.7 855.5 L783.0 856.9 L783.2 860.4 L786.8 862.2 L787.0 865.8 L800.4 867.7 L800.6 867.7 L800.8 919.5 L805.2 942.0 L805.4 916.1 L813.6 919.6 L813.9 858.9 L817.5 849.2 L820.2 847.9 L820.4 883.4 L829.0 885.6 L829.2 838.7 L833.6 822.4 L834.3 821.5 L834.6 854.7 L838.9 856.1 L849.7 859.3 L849.9 864.6 L860.0 866.4 L860.2 879.5 L865.8 882.1 L866.0 855.0 L868.1 850.1 L869.6 850.6 L870.0 855.9 L874.6 857.7 L874.8 860.4 L878.4 862.2 L878.6 865.7 L908.7 868.7 L908.9 881.7 L914.8 884.3 L915.0 856.3 L917.1 851.4 L918.3 852.3 L918.6 856.8 L920.9 858.1 L921.2 861.7 L924.8 863.5 L925.0 867.1 L938.3 869.0 L938.6 869.0 L938.8 920.8 L943.2 943.4 L943.4 917.4 L951.6 921.0 L951.8 860.2 L955.4 850.4 L958.1 849.1 L958.3 884.7 L966.9 887.0 L967.2 839.9 L971.5 823.4 L972.3 822.6 L972.5 855.9 L976.9 857.3 L987.6 860.5 L987.9 865.9 L998.0 867.8 L998.2 880.7 L1003.7 883.4 L1004.0 856.2 L1006.0 851.3 L1007.6 851.8 L1007.9 857.1 L1012.5 859.0 L1012.8 861.7 L1016.4 863.5 L1016.6 867.0 L1046.6 869.9 L1046.9 882.9 L1052.8 885.5 L1053.0 857.5 L1055.1 852.6 L1056.2 853.5 L1056.6 858.0 L1058.9 859.3 L1059.1 862.9 L1062.7 864.7 L1063.0 868.3 L1076.3 870.1 L1076.5 870.1 L1076.8 921.7 L1081.1 944.1 L1081.4 918.3 L1089.6 921.8 L1089.8 861.3 L1093.4 851.5 L1096.1 850.2 L1096.3 885.7" stroke="#ff0a20" stroke-width="5.8"/>
<path d="M451.9 877.0 L452.1 851.1 L454.2 846.6 L455.7 847.0 L456.1 852.0 L460.7 853.8 L460.9 856.3 L464.5 858.1 L464.7 861.4 L494.8 864.4 L495.0 876.8 L500.9 879.4 L501.1 852.7 L503.2 848.1 L504.4 849.0 L504.7 853.2 L507.0 854.4 L507.3 857.8 L510.9 859.5 L511.1 862.9 L524.4 864.7 L524.7 864.7 L524.9 914.6 L529.3 936.3 L529.5 911.3 L537.7 914.8 L537.9 856.5 L541.5 847.3 L544.2 846.1 L544.5 880.0 L553.0 882.1 L553.3 837.4 L557.6 822.0 L558.4 821.1 L558.6 852.6 L563.0 853.9 L573.7 857.0 L574.0 862.0 L584.1 863.8 L584.3 876.3 L589.8 878.9 L590.1 853.0 L592.1 848.4 L593.7 848.8 L594.0 853.8 L598.6 855.6 L598.9 858.1 L602.5 859.8 L602.7 863.2 L632.7 866.1 L633.0 878.6 L638.9 881.1 L639.1 854.3 L641.2 849.7 L642.3 850.6 L642.7 854.8 L645.0 856.1 L645.2 859.4 L648.8 861.2 L649.1 864.5 L662.4 866.3 L662.6 866.3 L662.9 916.5 L667.2 938.2 L667.5 913.2 L675.7 916.6 L675.9 858.0 L679.5 848.8 L682.2 847.6 L682.4 881.6 L691.0 883.7 L691.2 838.8 L695.6 823.3 L696.4 822.4 L696.6 854.0 L701.0 855.3 L711.7 858.4 L711.9 863.4 L722.0 865.2 L722.3 877.8 L727.8 880.4 L728.0 854.3 L730.1 849.6 L731.6 850.1 L732.0 855.2 L736.6 856.9 L736.8 859.4 L740.4 861.2 L740.7 864.5 L770.7 867.4 L770.9 880.0 L776.8 882.6 L777.1 855.6 L779.1 850.9 L780.3 851.8 L780.7 856.0 L783.0 857.3 L783.2 860.7 L786.8 862.4 L787.0 865.8 L800.4 867.7 L800.6 867.7 L800.8 918.2 L805.2 940.2 L805.4 914.9 L813.6 918.4 L813.9 859.3 L817.5 850.0 L820.2 848.7 L820.4 883.0 L829.0 885.2 L829.2 839.9 L833.6 824.2 L834.3 823.4 L834.6 855.2 L838.9 856.6 L849.7 859.6 L849.9 864.7 L860.0 866.5 L860.2 879.2 L865.8 881.8 L866.0 855.5 L868.1 850.8 L869.6 851.3 L870.0 856.4 L874.6 858.1 L874.8 860.7 L878.4 862.4 L878.6 865.8 L908.7 868.7 L908.9 881.3 L914.8 883.9 L915.0 856.8 L917.1 852.1 L918.3 853.0 L918.6 857.3 L920.9 858.6 L921.2 862.0 L924.8 863.7 L925.0 867.1 L938.3 869.0 L938.6 869.0 L938.8 919.5 L943.2 941.5 L943.4 916.2 L951.6 919.7 L951.8 860.6 L955.4 851.2 L958.1 849.9 L958.3 884.3 L966.9 886.5 L967.2 841.0 L971.5 825.3 L972.3 824.4 L972.5 856.5 L976.9 857.8 L987.6 860.9 L987.9 866.0 L998.0 867.8 L998.2 880.5 L1003.7 883.0 L1004.0 856.8 L1006.0 852.1 L1007.6 852.5 L1007.9 857.6 L1012.5 859.4 L1012.8 862.0 L1016.4 863.7 L1016.6 867.1 L1046.6 869.9 L1046.9 882.5 L1052.8 885.1 L1053.0 858.0 L1055.1 853.3 L1056.2 854.2 L1056.6 858.4 L1058.9 859.7 L1059.1 863.2 L1062.7 864.9 L1063.0 868.3 L1076.3 870.1 L1076.5 870.1 L1076.8 920.4 L1081.1 942.2 L1081.4 917.1 L1089.6 920.5 L1089.8 861.6 L1093.4 852.2 L1096.1 851.0 L1096.3 885.3" stroke="#000" stroke-width="3.2"/>
</g>
<text x="482.5" y="814.0" font-size="56" text-anchor="end">3.4</text>
<text x="482.5" y="910.6" font-size="56" text-anchor="end">3.2</text>
<text x="482.5" y="1007.2" font-size="56" text-anchor="end">3.0</text>
<text x="624.2" y="1084.5" font-size="56" text-anchor="middle">4500</text>
<text x="816.5" y="1084.5" font-size="56" text-anchor="middle">5000</text>
<text x="1008.8" y="1084.5" font-size="56" text-anchor="middle">5500</text>
</svg></body></html>
